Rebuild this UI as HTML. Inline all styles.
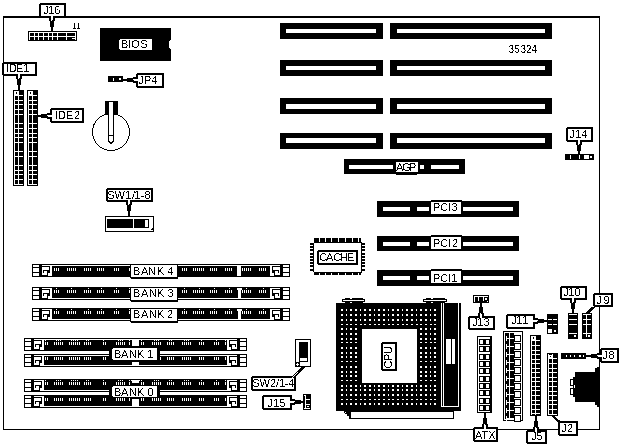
<!DOCTYPE html>
<html><head><meta charset="utf-8"><style>
html,body{margin:0;padding:0;background:#fff;overflow:hidden}
svg{display:block}
text{font-family:"Liberation Sans",sans-serif;fill:#000}
</style></head><body>
<svg width="621" height="447" viewBox="0 0 621 447" shape-rendering="crispEdges">
<defs><filter id="bw" x="0" y="0" width="100%" height="100%" color-interpolation-filters="sRGB"><feColorMatrix type="matrix" values="0.33 0.33 0.33 0 0 0.33 0.33 0.33 0 0 0.33 0.33 0.33 0 0 0 0 0 1 0"/><feComponentTransfer><feFuncR type="discrete" tableValues="0 1"/><feFuncG type="discrete" tableValues="0 1"/><feFuncB type="discrete" tableValues="0 1"/></feComponentTransfer></filter></defs>
<g filter="url(#bw)">
<rect width="621" height="447" fill="#fff"/>
<rect x="3" y="16" width="597" height="2" fill="#000"/>
<rect x="3" y="16" width="1" height="414" fill="#000"/>
<rect x="599" y="16" width="1" height="414" fill="#000"/>
<rect x="3" y="429" width="597" height="1" fill="#000"/>
<rect x="28" y="31" width="49" height="10" fill="#000"/>
<rect x="29" y="32" width="47" height="1" fill="#fff"/>
<rect x="29" y="36" width="47" height="1" fill="#fff"/>
<rect x="29" y="32" width="1" height="8" fill="#fff"/>
<rect x="34" y="32" width="1" height="8" fill="#fff"/>
<rect x="38" y="32" width="1" height="8" fill="#fff"/>
<rect x="43" y="32" width="1" height="8" fill="#fff"/>
<rect x="48" y="32" width="1" height="8" fill="#fff"/>
<rect x="52" y="32" width="1" height="8" fill="#fff"/>
<rect x="57" y="32" width="1" height="8" fill="#fff"/>
<rect x="66" y="32" width="1" height="8" fill="#fff"/>
<rect x="75" y="32" width="1" height="8" fill="#fff"/>
<rect x="72" y="38" width="3" height="1" fill="#fff"/>
<polygon points="40,3 65,3 66,4 66,17 65,18 40,18 39,17 39,4" fill="#000"/>
<rect x="41" y="5" width="23" height="11" fill="#fff"/>
<rect x="49" y="18" width="6" height="3" fill="#000"/>
<rect x="50" y="21" width="4" height="6" fill="#000"/>
<rect x="51" y="27" width="2" height="4" fill="#000"/>
<rect x="51" y="16" width="2" height="4" fill="#fff"/>
<rect x="51" y="20" width="1" height="1" fill="#fff"/>
<text x="43.25" y="14" font-size="11">J</text>
<text x="48.25" y="14" font-size="11">1</text>
<text x="54.25" y="14" font-size="11">6</text>
<text x="72.00" y="29" font-size="8.5" text-anchor="start">11</text>
<rect x="100" y="28" width="71" height="33" fill="#000"/>
<rect x="169" y="41" width="2" height="7" fill="#fff"/>
<rect x="170" y="40" width="1" height="9" fill="#fff"/>
<polygon points="120,39 151,39 152,40 152,49 151,50 120,50 119,49 119,40" fill="#fff"/>
<text x="121.00" y="48" font-size="11">B</text>
<text x="128.00" y="48" font-size="11">I</text>
<text x="131.25" y="48" font-size="11">O</text>
<text x="140.25" y="48" font-size="11">S</text>
<rect x="108" y="76" width="15" height="6" fill="#000"/>
<rect x="113" y="78" width="1" height="3" fill="#fff"/>
<rect x="119" y="78" width="2" height="2" fill="#fff"/>
<polygon points="137,73 163,73 164,74 164,87 163,88 137,88 136,87 136,74" fill="#000"/>
<rect x="138" y="75" width="24" height="11" fill="#fff"/>
<rect x="133" y="77" width="3" height="6" fill="#000"/>
<rect x="127" y="78" width="6" height="4" fill="#000"/>
<rect x="123" y="79" width="4" height="2" fill="#000"/>
<rect x="134" y="79" width="4" height="2" fill="#fff"/>
<rect x="133" y="79" width="1" height="1" fill="#fff"/>
<text x="138.25" y="84" font-size="11">J</text>
<text x="144.00" y="84" font-size="11">P</text>
<text x="151.25" y="84" font-size="11">4</text>
<rect x="13" y="90" width="11" height="96" fill="#000"/>
<rect x="14" y="91" width="1" height="94" fill="#fff"/>
<rect x="18" y="91" width="1" height="94" fill="#fff"/>
<rect x="14" y="95" width="9" height="1" fill="#fff"/>
<rect x="14" y="100" width="9" height="1" fill="#fff"/>
<rect x="14" y="104" width="9" height="1" fill="#fff"/>
<rect x="14" y="109" width="9" height="1" fill="#fff"/>
<rect x="14" y="114" width="9" height="1" fill="#fff"/>
<rect x="14" y="123" width="9" height="1" fill="#fff"/>
<rect x="14" y="128" width="9" height="1" fill="#fff"/>
<rect x="14" y="133" width="9" height="1" fill="#fff"/>
<rect x="14" y="137" width="9" height="1" fill="#fff"/>
<rect x="14" y="142" width="9" height="1" fill="#fff"/>
<rect x="14" y="151" width="9" height="1" fill="#fff"/>
<rect x="14" y="156" width="9" height="1" fill="#fff"/>
<rect x="14" y="165" width="9" height="1" fill="#fff"/>
<rect x="14" y="170" width="9" height="1" fill="#fff"/>
<rect x="14" y="174" width="9" height="1" fill="#fff"/>
<rect x="14" y="179" width="9" height="1" fill="#fff"/>
<rect x="14" y="184" width="9" height="1" fill="#fff"/>
<rect x="15" y="91" width="3" height="4" fill="#fff"/>
<rect x="16" y="92" width="1" height="2" fill="#000"/>
<rect x="27" y="90" width="11" height="96" fill="#000"/>
<rect x="28" y="91" width="1" height="94" fill="#fff"/>
<rect x="32" y="91" width="1" height="94" fill="#fff"/>
<rect x="28" y="95" width="9" height="1" fill="#fff"/>
<rect x="28" y="100" width="9" height="1" fill="#fff"/>
<rect x="28" y="104" width="9" height="1" fill="#fff"/>
<rect x="28" y="109" width="9" height="1" fill="#fff"/>
<rect x="28" y="114" width="9" height="1" fill="#fff"/>
<rect x="28" y="123" width="9" height="1" fill="#fff"/>
<rect x="28" y="128" width="9" height="1" fill="#fff"/>
<rect x="28" y="133" width="9" height="1" fill="#fff"/>
<rect x="28" y="137" width="9" height="1" fill="#fff"/>
<rect x="28" y="142" width="9" height="1" fill="#fff"/>
<rect x="28" y="151" width="9" height="1" fill="#fff"/>
<rect x="28" y="156" width="9" height="1" fill="#fff"/>
<rect x="28" y="165" width="9" height="1" fill="#fff"/>
<rect x="28" y="170" width="9" height="1" fill="#fff"/>
<rect x="28" y="174" width="9" height="1" fill="#fff"/>
<rect x="28" y="179" width="9" height="1" fill="#fff"/>
<rect x="28" y="184" width="9" height="1" fill="#fff"/>
<rect x="29" y="91" width="3" height="4" fill="#fff"/>
<rect x="30" y="92" width="1" height="2" fill="#000"/>
<polygon points="3,62 36,62 37,63 37,75 36,76 3,76 2,75 2,63" fill="#000"/>
<rect x="4" y="64" width="31" height="10" fill="#fff"/>
<rect x="16" y="76" width="6" height="3" fill="#000"/>
<rect x="17" y="79" width="4" height="6" fill="#000"/>
<rect x="18" y="85" width="2" height="5" fill="#000"/>
<rect x="18" y="74" width="2" height="4" fill="#fff"/>
<rect x="18" y="78" width="1" height="1" fill="#fff"/>
<text x="6.00" y="72" font-size="11">I</text>
<text x="9.00" y="72" font-size="11">D</text>
<text x="16.00" y="72" font-size="11">E</text>
<text x="23.25" y="72" font-size="11">1</text>
<polygon points="51,108 83,108 84,109 84,122 83,123 51,123 50,122 50,109" fill="#000"/>
<rect x="52" y="110" width="30" height="11" fill="#fff"/>
<rect x="47" y="113" width="3" height="6" fill="#000"/>
<rect x="41" y="114" width="6" height="4" fill="#000"/>
<rect x="38" y="115" width="3" height="2" fill="#000"/>
<rect x="48" y="115" width="4" height="2" fill="#fff"/>
<rect x="47" y="115" width="1" height="1" fill="#fff"/>
<text x="55.00" y="119" font-size="11">I</text>
<text x="58.00" y="119" font-size="11">D</text>
<text x="66.00" y="119" font-size="11">E</text>
<text x="74.00" y="119" font-size="11">2</text>
<circle cx="111" cy="132" r="18.5" fill="none" stroke="#000" stroke-width="1"/>
<rect x="105" y="101" width="13" height="14" fill="#000"/>
<polygon points="108,101 114,101 114,141 111,145 108,141" fill="#000"/>
<polygon points="109,102 113,102 113,140.5 111,143 109,140.5" fill="#fff"/>
<rect x="108" y="135" width="6" height="1" fill="#000"/>
<polygon points="107,188 152,188 153,189 153,201 152,202 107,202 106,201 106,189" fill="#000"/>
<rect x="108" y="190" width="43" height="10" fill="#fff"/>
<rect x="126" y="202" width="6" height="3" fill="#000"/>
<rect x="127" y="205" width="4" height="6" fill="#000"/>
<rect x="128" y="211" width="2" height="5" fill="#000"/>
<rect x="128" y="200" width="2" height="4" fill="#fff"/>
<rect x="128" y="204" width="1" height="1" fill="#fff"/>
<text x="107.25" y="199" font-size="11">S</text>
<text x="114.50" y="199" font-size="11">W</text>
<text x="125.25" y="199" font-size="11">1</text>
<text x="132.00" y="199" font-size="11">/</text>
<text x="134.25" y="199" font-size="11">1</text>
<text x="140.75" y="199" font-size="11">-</text>
<text x="144.50" y="199" font-size="11">8</text>
<rect x="105" y="216" width="49" height="16" fill="#000"/>
<rect x="106" y="217" width="47" height="14" fill="#fff"/>
<rect x="107" y="219" width="26" height="9" fill="#000"/>
<rect x="134" y="219" width="15" height="9" fill="#000"/>
<rect x="145" y="220" width="3" height="7" fill="#fff"/>
<polygon points="150,230 153,227 153,230" fill="#000"/>
<rect x="280" y="23" width="103" height="16" fill="#000"/>
<rect x="286" y="29" width="90" height="4" fill="#fff"/>
<rect x="390" y="23" width="162" height="16" fill="#000"/>
<rect x="397" y="29" width="148" height="4" fill="#fff"/>
<rect x="280" y="60" width="103" height="16" fill="#000"/>
<rect x="286" y="66" width="90" height="4" fill="#fff"/>
<rect x="390" y="60" width="162" height="16" fill="#000"/>
<rect x="397" y="66" width="148" height="4" fill="#fff"/>
<rect x="280" y="98" width="103" height="16" fill="#000"/>
<rect x="286" y="104" width="90" height="5" fill="#fff"/>
<rect x="390" y="98" width="162" height="16" fill="#000"/>
<rect x="397" y="104" width="148" height="5" fill="#fff"/>
<rect x="280" y="133" width="103" height="16" fill="#000"/>
<rect x="286" y="138" width="90" height="5" fill="#fff"/>
<rect x="390" y="133" width="162" height="16" fill="#000"/>
<rect x="397" y="138" width="148" height="5" fill="#fff"/>
<text x="508.50" y="53" font-size="10">3</text>
<text x="514.25" y="53" font-size="10">5</text>
<text x="520.50" y="53" font-size="10">3</text>
<text x="526.00" y="53" font-size="10">2</text>
<text x="531.25" y="53" font-size="10">4</text>
<rect x="344" y="159" width="121" height="15" fill="#000"/>
<rect x="349" y="165" width="44" height="4" fill="#fff"/>
<rect x="420" y="165" width="4" height="4" fill="#fff"/>
<rect x="431" y="165" width="28" height="4" fill="#fff"/>
<polygon points="395,161 418,161 419,162 419,172 418,173 395,173 394,172 394,162" fill="#000"/>
<rect x="396" y="162" width="22" height="10" fill="#fff"/>
<rect x="396" y="174" width="21" height="1" fill="#000"/>
<text x="396.00" y="171" font-size="11">A</text>
<text x="402.25" y="171" font-size="11">G</text>
<text x="409.00" y="171" font-size="11">P</text>
<rect x="565" y="154" width="29" height="6" fill="#000"/>
<rect x="570" y="155" width="1" height="4" fill="#fff"/>
<rect x="579" y="155" width="1" height="4" fill="#fff"/>
<rect x="584" y="155" width="5" height="4" fill="#fff"/>
<rect x="590" y="156" width="2" height="2" fill="#fff"/>
<polygon points="567,127 592,127 593,128 593,141 592,142 567,142 566,141 566,128" fill="#000"/>
<rect x="568" y="129" width="23" height="11" fill="#fff"/>
<rect x="576" y="142" width="6" height="3" fill="#000"/>
<rect x="577" y="145" width="4" height="6" fill="#000"/>
<rect x="578" y="151" width="2" height="3" fill="#000"/>
<rect x="578" y="140" width="2" height="4" fill="#fff"/>
<rect x="578" y="144" width="1" height="1" fill="#fff"/>
<text x="569.25" y="138" font-size="11">J</text>
<text x="575.25" y="138" font-size="11">1</text>
<text x="581.25" y="138" font-size="11">4</text>
<rect x="377" y="201" width="142" height="16" fill="#000"/>
<rect x="383" y="207" width="27" height="4" fill="#fff"/>
<rect x="417" y="207" width="12" height="4" fill="#fff"/>
<rect x="463" y="207" width="50" height="4" fill="#fff"/>
<rect x="377" y="236" width="142" height="15" fill="#000"/>
<rect x="383" y="242" width="27" height="4" fill="#fff"/>
<rect x="417" y="242" width="12" height="4" fill="#fff"/>
<rect x="463" y="242" width="50" height="4" fill="#fff"/>
<rect x="377" y="270" width="142" height="16" fill="#000"/>
<rect x="383" y="276" width="27" height="4" fill="#fff"/>
<rect x="417" y="276" width="12" height="4" fill="#fff"/>
<rect x="463" y="276" width="50" height="4" fill="#fff"/>
<polygon points="431,200 461,200 462,201 462,214 461,215 431,215 430,214 430,201" fill="#000"/>
<rect x="431" y="202" width="30" height="12" fill="#fff"/>
<text x="433.00" y="211" font-size="11">P</text>
<text x="440.25" y="211" font-size="11">C</text>
<text x="448.00" y="211" font-size="11">I</text>
<text x="451.50" y="211" font-size="11">3</text>
<polygon points="431,235 461,235 462,236 462,249 461,250 431,250 430,249 430,236" fill="#000"/>
<rect x="431" y="237" width="30" height="12" fill="#fff"/>
<text x="433.00" y="247" font-size="11">P</text>
<text x="440.25" y="247" font-size="11">C</text>
<text x="448.00" y="247" font-size="11">I</text>
<text x="452.00" y="247" font-size="11">2</text>
<polygon points="431,269 461,269 462,270 462,283 461,284 431,284 430,283 430,270" fill="#000"/>
<rect x="431" y="271" width="30" height="12" fill="#fff"/>
<text x="433.00" y="282" font-size="11">P</text>
<text x="440.25" y="282" font-size="11">C</text>
<text x="448.00" y="282" font-size="11">I</text>
<text x="451.25" y="282" font-size="11">1</text>
<rect x="314" y="238" width="47" height="4" fill="#000"/>
<rect x="314" y="273" width="47" height="2" fill="#000"/>
<rect x="319" y="238" width="1" height="4" fill="#fff"/>
<rect x="319" y="273" width="1" height="2" fill="#fff"/>
<rect x="325" y="238" width="1" height="4" fill="#fff"/>
<rect x="325" y="273" width="1" height="2" fill="#fff"/>
<rect x="331" y="238" width="1" height="4" fill="#fff"/>
<rect x="331" y="273" width="1" height="2" fill="#fff"/>
<rect x="338" y="238" width="1" height="4" fill="#fff"/>
<rect x="338" y="273" width="1" height="2" fill="#fff"/>
<rect x="345" y="238" width="1" height="4" fill="#fff"/>
<rect x="345" y="273" width="1" height="2" fill="#fff"/>
<rect x="352" y="238" width="1" height="4" fill="#fff"/>
<rect x="352" y="273" width="1" height="2" fill="#fff"/>
<rect x="358" y="238" width="1" height="4" fill="#fff"/>
<rect x="358" y="273" width="1" height="2" fill="#fff"/>
<rect x="310" y="243" width="3" height="2" fill="#000"/>
<rect x="362" y="243" width="3" height="2" fill="#000"/>
<rect x="310" y="246" width="3" height="2" fill="#000"/>
<rect x="362" y="246" width="3" height="2" fill="#000"/>
<rect x="310" y="249" width="3" height="2" fill="#000"/>
<rect x="362" y="249" width="3" height="2" fill="#000"/>
<rect x="310" y="253" width="3" height="2" fill="#000"/>
<rect x="362" y="253" width="3" height="2" fill="#000"/>
<rect x="310" y="256" width="3" height="2" fill="#000"/>
<rect x="362" y="256" width="3" height="2" fill="#000"/>
<rect x="310" y="259" width="3" height="2" fill="#000"/>
<rect x="362" y="259" width="3" height="2" fill="#000"/>
<rect x="310" y="262" width="3" height="2" fill="#000"/>
<rect x="362" y="262" width="3" height="2" fill="#000"/>
<rect x="310" y="265" width="3" height="2" fill="#000"/>
<rect x="362" y="265" width="3" height="2" fill="#000"/>
<rect x="310" y="269" width="3" height="2" fill="#000"/>
<rect x="362" y="269" width="3" height="2" fill="#000"/>
<polygon points="314,242 361,242 362,243 362,272 361,273 314,273 313,272 313,243" fill="#000"/>
<rect x="314" y="243" width="47" height="29" fill="#fff"/>
<polygon points="318,250 357,250 358,251 358,264 357,265 318,265 317,264 317,251" fill="#000"/>
<rect x="319" y="252" width="37" height="11" fill="#fff"/>
<text x="319.25" y="261" font-size="11">C</text>
<text x="326.00" y="261" font-size="11">A</text>
<text x="333.25" y="261" font-size="11">C</text>
<text x="340.00" y="261" font-size="11">H</text>
<text x="347.00" y="261" font-size="11">E</text>
<rect x="32" y="264" width="258" height="13" fill="#000"/>
<rect x="33" y="265" width="6" height="2" fill="#fff"/>
<rect x="33" y="268" width="6" height="4" fill="#fff"/>
<rect x="33" y="273" width="6" height="3" fill="#fff"/>
<rect x="42" y="265" width="10" height="1" fill="#fff"/>
<rect x="50" y="265" width="2" height="11" fill="#fff"/>
<rect x="42" y="267" width="7" height="3" fill="#fff"/>
<rect x="42" y="270" width="1" height="5" fill="#fff"/>
<rect x="44" y="271" width="3" height="2" fill="#fff"/>
<rect x="42" y="273" width="5" height="2" fill="#fff"/>
<rect x="48" y="273" width="2" height="3" fill="#fff"/>
<rect x="283" y="265" width="6" height="2" fill="#fff"/>
<rect x="283" y="268" width="6" height="4" fill="#fff"/>
<rect x="283" y="273" width="6" height="3" fill="#fff"/>
<rect x="270" y="265" width="10" height="1" fill="#fff"/>
<rect x="270" y="265" width="2" height="11" fill="#fff"/>
<rect x="273" y="267" width="7" height="3" fill="#fff"/>
<rect x="279" y="270" width="1" height="5" fill="#fff"/>
<rect x="275" y="271" width="3" height="2" fill="#fff"/>
<rect x="275" y="273" width="5" height="2" fill="#fff"/>
<rect x="272" y="273" width="2" height="3" fill="#fff"/>
<rect x="52" y="265" width="218" height="1" fill="#fff"/>
<rect x="54" y="268" width="1" height="3" fill="#fff"/>
<rect x="56" y="268" width="1" height="3" fill="#fff"/>
<rect x="58" y="268" width="1" height="3" fill="#fff"/>
<rect x="67" y="268" width="1" height="3" fill="#fff"/>
<rect x="69" y="268" width="1" height="3" fill="#fff"/>
<rect x="71" y="268" width="1" height="3" fill="#fff"/>
<rect x="73" y="268" width="1" height="3" fill="#fff"/>
<rect x="75" y="268" width="1" height="3" fill="#fff"/>
<rect x="84" y="268" width="1" height="3" fill="#fff"/>
<rect x="86" y="268" width="1" height="3" fill="#fff"/>
<rect x="88" y="268" width="1" height="3" fill="#fff"/>
<rect x="90" y="268" width="1" height="3" fill="#fff"/>
<rect x="97" y="268" width="1" height="3" fill="#fff"/>
<rect x="99" y="268" width="1" height="3" fill="#fff"/>
<rect x="101" y="268" width="1" height="3" fill="#fff"/>
<rect x="103" y="268" width="1" height="3" fill="#fff"/>
<rect x="114" y="268" width="1" height="3" fill="#fff"/>
<rect x="116" y="268" width="1" height="3" fill="#fff"/>
<rect x="118" y="268" width="1" height="3" fill="#fff"/>
<rect x="129" y="268" width="1" height="3" fill="#fff"/>
<rect x="182" y="268" width="1" height="3" fill="#fff"/>
<rect x="184" y="268" width="1" height="3" fill="#fff"/>
<rect x="186" y="268" width="1" height="3" fill="#fff"/>
<rect x="193" y="268" width="1" height="3" fill="#fff"/>
<rect x="195" y="268" width="1" height="3" fill="#fff"/>
<rect x="197" y="268" width="1" height="3" fill="#fff"/>
<rect x="199" y="268" width="1" height="3" fill="#fff"/>
<rect x="201" y="268" width="1" height="3" fill="#fff"/>
<rect x="203" y="268" width="1" height="3" fill="#fff"/>
<rect x="210" y="268" width="1" height="3" fill="#fff"/>
<rect x="212" y="268" width="1" height="3" fill="#fff"/>
<rect x="214" y="268" width="1" height="3" fill="#fff"/>
<rect x="216" y="268" width="1" height="3" fill="#fff"/>
<rect x="225" y="268" width="1" height="3" fill="#fff"/>
<rect x="227" y="268" width="1" height="3" fill="#fff"/>
<rect x="229" y="268" width="1" height="3" fill="#fff"/>
<rect x="231" y="268" width="1" height="3" fill="#fff"/>
<rect x="242" y="268" width="1" height="3" fill="#fff"/>
<rect x="244" y="268" width="1" height="3" fill="#fff"/>
<rect x="246" y="268" width="1" height="3" fill="#fff"/>
<rect x="248" y="268" width="1" height="3" fill="#fff"/>
<rect x="250" y="268" width="1" height="3" fill="#fff"/>
<rect x="259" y="268" width="1" height="3" fill="#fff"/>
<rect x="261" y="268" width="1" height="3" fill="#fff"/>
<rect x="263" y="268" width="1" height="3" fill="#fff"/>
<rect x="265" y="268" width="1" height="3" fill="#fff"/>
<rect x="237" y="265" width="4" height="11" fill="#fff"/>
<rect x="32" y="287" width="258" height="13" fill="#000"/>
<rect x="33" y="288" width="6" height="2" fill="#fff"/>
<rect x="33" y="291" width="6" height="4" fill="#fff"/>
<rect x="33" y="296" width="6" height="3" fill="#fff"/>
<rect x="42" y="288" width="10" height="1" fill="#fff"/>
<rect x="50" y="288" width="2" height="11" fill="#fff"/>
<rect x="42" y="290" width="7" height="3" fill="#fff"/>
<rect x="42" y="293" width="1" height="5" fill="#fff"/>
<rect x="44" y="294" width="3" height="2" fill="#fff"/>
<rect x="42" y="296" width="5" height="2" fill="#fff"/>
<rect x="48" y="296" width="2" height="3" fill="#fff"/>
<rect x="283" y="288" width="6" height="2" fill="#fff"/>
<rect x="283" y="291" width="6" height="4" fill="#fff"/>
<rect x="283" y="296" width="6" height="3" fill="#fff"/>
<rect x="270" y="288" width="10" height="1" fill="#fff"/>
<rect x="270" y="288" width="2" height="11" fill="#fff"/>
<rect x="273" y="290" width="7" height="3" fill="#fff"/>
<rect x="279" y="293" width="1" height="5" fill="#fff"/>
<rect x="275" y="294" width="3" height="2" fill="#fff"/>
<rect x="275" y="296" width="5" height="2" fill="#fff"/>
<rect x="272" y="296" width="2" height="3" fill="#fff"/>
<rect x="52" y="298" width="218" height="1" fill="#fff"/>
<rect x="54" y="290" width="1" height="3" fill="#fff"/>
<rect x="56" y="290" width="1" height="3" fill="#fff"/>
<rect x="58" y="290" width="1" height="3" fill="#fff"/>
<rect x="67" y="290" width="1" height="3" fill="#fff"/>
<rect x="69" y="290" width="1" height="3" fill="#fff"/>
<rect x="71" y="290" width="1" height="3" fill="#fff"/>
<rect x="73" y="290" width="1" height="3" fill="#fff"/>
<rect x="75" y="290" width="1" height="3" fill="#fff"/>
<rect x="84" y="290" width="1" height="3" fill="#fff"/>
<rect x="86" y="290" width="1" height="3" fill="#fff"/>
<rect x="88" y="290" width="1" height="3" fill="#fff"/>
<rect x="90" y="290" width="1" height="3" fill="#fff"/>
<rect x="97" y="290" width="1" height="3" fill="#fff"/>
<rect x="99" y="290" width="1" height="3" fill="#fff"/>
<rect x="101" y="290" width="1" height="3" fill="#fff"/>
<rect x="103" y="290" width="1" height="3" fill="#fff"/>
<rect x="114" y="290" width="1" height="3" fill="#fff"/>
<rect x="116" y="290" width="1" height="3" fill="#fff"/>
<rect x="118" y="290" width="1" height="3" fill="#fff"/>
<rect x="129" y="290" width="1" height="3" fill="#fff"/>
<rect x="182" y="290" width="1" height="3" fill="#fff"/>
<rect x="184" y="290" width="1" height="3" fill="#fff"/>
<rect x="186" y="290" width="1" height="3" fill="#fff"/>
<rect x="193" y="290" width="1" height="3" fill="#fff"/>
<rect x="195" y="290" width="1" height="3" fill="#fff"/>
<rect x="197" y="290" width="1" height="3" fill="#fff"/>
<rect x="199" y="290" width="1" height="3" fill="#fff"/>
<rect x="201" y="290" width="1" height="3" fill="#fff"/>
<rect x="203" y="290" width="1" height="3" fill="#fff"/>
<rect x="210" y="290" width="1" height="3" fill="#fff"/>
<rect x="212" y="290" width="1" height="3" fill="#fff"/>
<rect x="214" y="290" width="1" height="3" fill="#fff"/>
<rect x="216" y="290" width="1" height="3" fill="#fff"/>
<rect x="225" y="290" width="1" height="3" fill="#fff"/>
<rect x="227" y="290" width="1" height="3" fill="#fff"/>
<rect x="229" y="290" width="1" height="3" fill="#fff"/>
<rect x="231" y="290" width="1" height="3" fill="#fff"/>
<rect x="242" y="290" width="1" height="3" fill="#fff"/>
<rect x="244" y="290" width="1" height="3" fill="#fff"/>
<rect x="246" y="290" width="1" height="3" fill="#fff"/>
<rect x="248" y="290" width="1" height="3" fill="#fff"/>
<rect x="250" y="290" width="1" height="3" fill="#fff"/>
<rect x="259" y="290" width="1" height="3" fill="#fff"/>
<rect x="261" y="290" width="1" height="3" fill="#fff"/>
<rect x="263" y="290" width="1" height="3" fill="#fff"/>
<rect x="265" y="290" width="1" height="3" fill="#fff"/>
<rect x="56" y="288" width="1" height="1" fill="#fff"/>
<rect x="71" y="288" width="1" height="1" fill="#fff"/>
<rect x="88" y="288" width="1" height="1" fill="#fff"/>
<rect x="101" y="288" width="1" height="1" fill="#fff"/>
<rect x="116" y="288" width="1" height="1" fill="#fff"/>
<rect x="129" y="288" width="1" height="1" fill="#fff"/>
<rect x="184" y="288" width="1" height="1" fill="#fff"/>
<rect x="199" y="288" width="1" height="1" fill="#fff"/>
<rect x="214" y="288" width="1" height="1" fill="#fff"/>
<rect x="229" y="288" width="1" height="1" fill="#fff"/>
<rect x="246" y="288" width="1" height="1" fill="#fff"/>
<rect x="263" y="288" width="1" height="1" fill="#fff"/>
<rect x="237" y="288" width="5" height="2" fill="#fff"/>
<rect x="238" y="290" width="3" height="8" fill="#fff"/>
<rect x="32" y="308" width="258" height="13" fill="#000"/>
<rect x="33" y="309" width="6" height="2" fill="#fff"/>
<rect x="33" y="312" width="6" height="4" fill="#fff"/>
<rect x="33" y="317" width="6" height="3" fill="#fff"/>
<rect x="42" y="309" width="10" height="1" fill="#fff"/>
<rect x="50" y="309" width="2" height="11" fill="#fff"/>
<rect x="42" y="311" width="7" height="3" fill="#fff"/>
<rect x="42" y="314" width="1" height="5" fill="#fff"/>
<rect x="44" y="315" width="3" height="2" fill="#fff"/>
<rect x="42" y="317" width="5" height="2" fill="#fff"/>
<rect x="48" y="317" width="2" height="3" fill="#fff"/>
<rect x="283" y="309" width="6" height="2" fill="#fff"/>
<rect x="283" y="312" width="6" height="4" fill="#fff"/>
<rect x="283" y="317" width="6" height="3" fill="#fff"/>
<rect x="270" y="309" width="10" height="1" fill="#fff"/>
<rect x="270" y="309" width="2" height="11" fill="#fff"/>
<rect x="273" y="311" width="7" height="3" fill="#fff"/>
<rect x="279" y="314" width="1" height="5" fill="#fff"/>
<rect x="275" y="315" width="3" height="2" fill="#fff"/>
<rect x="275" y="317" width="5" height="2" fill="#fff"/>
<rect x="272" y="317" width="2" height="3" fill="#fff"/>
<rect x="52" y="319" width="218" height="1" fill="#fff"/>
<rect x="54" y="311" width="1" height="3" fill="#fff"/>
<rect x="56" y="311" width="1" height="3" fill="#fff"/>
<rect x="58" y="311" width="1" height="3" fill="#fff"/>
<rect x="67" y="311" width="1" height="3" fill="#fff"/>
<rect x="69" y="311" width="1" height="3" fill="#fff"/>
<rect x="71" y="311" width="1" height="3" fill="#fff"/>
<rect x="73" y="311" width="1" height="3" fill="#fff"/>
<rect x="75" y="311" width="1" height="3" fill="#fff"/>
<rect x="84" y="311" width="1" height="3" fill="#fff"/>
<rect x="86" y="311" width="1" height="3" fill="#fff"/>
<rect x="88" y="311" width="1" height="3" fill="#fff"/>
<rect x="90" y="311" width="1" height="3" fill="#fff"/>
<rect x="97" y="311" width="1" height="3" fill="#fff"/>
<rect x="99" y="311" width="1" height="3" fill="#fff"/>
<rect x="101" y="311" width="1" height="3" fill="#fff"/>
<rect x="103" y="311" width="1" height="3" fill="#fff"/>
<rect x="114" y="311" width="1" height="3" fill="#fff"/>
<rect x="116" y="311" width="1" height="3" fill="#fff"/>
<rect x="118" y="311" width="1" height="3" fill="#fff"/>
<rect x="129" y="311" width="1" height="3" fill="#fff"/>
<rect x="182" y="311" width="1" height="3" fill="#fff"/>
<rect x="184" y="311" width="1" height="3" fill="#fff"/>
<rect x="186" y="311" width="1" height="3" fill="#fff"/>
<rect x="193" y="311" width="1" height="3" fill="#fff"/>
<rect x="195" y="311" width="1" height="3" fill="#fff"/>
<rect x="197" y="311" width="1" height="3" fill="#fff"/>
<rect x="199" y="311" width="1" height="3" fill="#fff"/>
<rect x="201" y="311" width="1" height="3" fill="#fff"/>
<rect x="203" y="311" width="1" height="3" fill="#fff"/>
<rect x="210" y="311" width="1" height="3" fill="#fff"/>
<rect x="212" y="311" width="1" height="3" fill="#fff"/>
<rect x="214" y="311" width="1" height="3" fill="#fff"/>
<rect x="216" y="311" width="1" height="3" fill="#fff"/>
<rect x="225" y="311" width="1" height="3" fill="#fff"/>
<rect x="227" y="311" width="1" height="3" fill="#fff"/>
<rect x="229" y="311" width="1" height="3" fill="#fff"/>
<rect x="231" y="311" width="1" height="3" fill="#fff"/>
<rect x="242" y="311" width="1" height="3" fill="#fff"/>
<rect x="244" y="311" width="1" height="3" fill="#fff"/>
<rect x="246" y="311" width="1" height="3" fill="#fff"/>
<rect x="248" y="311" width="1" height="3" fill="#fff"/>
<rect x="250" y="311" width="1" height="3" fill="#fff"/>
<rect x="259" y="311" width="1" height="3" fill="#fff"/>
<rect x="261" y="311" width="1" height="3" fill="#fff"/>
<rect x="263" y="311" width="1" height="3" fill="#fff"/>
<rect x="265" y="311" width="1" height="3" fill="#fff"/>
<rect x="56" y="309" width="1" height="1" fill="#fff"/>
<rect x="71" y="309" width="1" height="1" fill="#fff"/>
<rect x="88" y="309" width="1" height="1" fill="#fff"/>
<rect x="101" y="309" width="1" height="1" fill="#fff"/>
<rect x="116" y="309" width="1" height="1" fill="#fff"/>
<rect x="129" y="309" width="1" height="1" fill="#fff"/>
<rect x="184" y="309" width="1" height="1" fill="#fff"/>
<rect x="199" y="309" width="1" height="1" fill="#fff"/>
<rect x="214" y="309" width="1" height="1" fill="#fff"/>
<rect x="229" y="309" width="1" height="1" fill="#fff"/>
<rect x="246" y="309" width="1" height="1" fill="#fff"/>
<rect x="263" y="309" width="1" height="1" fill="#fff"/>
<rect x="237" y="309" width="5" height="2" fill="#fff"/>
<rect x="238" y="311" width="3" height="8" fill="#fff"/>
<polygon points="131,264 177,264 178,265 178,278 177,279 131,279 130,278 130,265" fill="#000"/>
<rect x="131" y="265" width="46" height="12" fill="#fff"/>
<text x="133.00" y="275" font-size="11">B</text>
<text x="141.00" y="275" font-size="11">A</text>
<text x="148.00" y="275" font-size="11">N</text>
<text x="157.00" y="275" font-size="11">K</text>
<text x="167.25" y="275" font-size="11">4</text>
<polygon points="131,287 177,287 178,288 178,301 177,302 131,302 130,301 130,288" fill="#000"/>
<rect x="131" y="288" width="46" height="12" fill="#fff"/>
<text x="133.00" y="297" font-size="11">B</text>
<text x="141.00" y="297" font-size="11">A</text>
<text x="149.00" y="297" font-size="11">N</text>
<text x="157.00" y="297" font-size="11">K</text>
<text x="167.50" y="297" font-size="11">3</text>
<polygon points="131,308 177,308 178,309 178,322 177,323 131,323 130,322 130,309" fill="#000"/>
<rect x="131" y="309" width="46" height="12" fill="#fff"/>
<text x="133.00" y="318" font-size="11">B</text>
<text x="141.00" y="318" font-size="11">A</text>
<text x="149.00" y="318" font-size="11">N</text>
<text x="157.00" y="318" font-size="11">K</text>
<text x="167.00" y="318" font-size="11">2</text>
<rect x="24" y="338" width="223" height="13" fill="#000"/>
<rect x="25" y="339" width="6" height="2" fill="#fff"/>
<rect x="25" y="342" width="6" height="4" fill="#fff"/>
<rect x="25" y="347" width="6" height="3" fill="#fff"/>
<rect x="34" y="339" width="10" height="1" fill="#fff"/>
<rect x="42" y="339" width="2" height="11" fill="#fff"/>
<rect x="34" y="341" width="7" height="3" fill="#fff"/>
<rect x="34" y="344" width="1" height="5" fill="#fff"/>
<rect x="36" y="345" width="3" height="2" fill="#fff"/>
<rect x="34" y="347" width="5" height="2" fill="#fff"/>
<rect x="40" y="347" width="2" height="3" fill="#fff"/>
<rect x="240" y="339" width="6" height="2" fill="#fff"/>
<rect x="240" y="342" width="6" height="4" fill="#fff"/>
<rect x="240" y="347" width="6" height="3" fill="#fff"/>
<rect x="227" y="339" width="10" height="1" fill="#fff"/>
<rect x="227" y="339" width="2" height="11" fill="#fff"/>
<rect x="230" y="341" width="7" height="3" fill="#fff"/>
<rect x="236" y="344" width="1" height="5" fill="#fff"/>
<rect x="232" y="345" width="3" height="2" fill="#fff"/>
<rect x="232" y="347" width="5" height="2" fill="#fff"/>
<rect x="229" y="347" width="2" height="3" fill="#fff"/>
<rect x="44" y="339" width="183" height="1" fill="#fff"/>
<rect x="45" y="342" width="1" height="3" fill="#fff"/>
<rect x="47" y="342" width="1" height="3" fill="#fff"/>
<rect x="54" y="342" width="1" height="3" fill="#fff"/>
<rect x="56" y="342" width="1" height="3" fill="#fff"/>
<rect x="58" y="342" width="1" height="3" fill="#fff"/>
<rect x="60" y="342" width="1" height="3" fill="#fff"/>
<rect x="62" y="342" width="1" height="3" fill="#fff"/>
<rect x="69" y="342" width="1" height="3" fill="#fff"/>
<rect x="71" y="342" width="1" height="3" fill="#fff"/>
<rect x="73" y="342" width="1" height="3" fill="#fff"/>
<rect x="75" y="342" width="1" height="3" fill="#fff"/>
<rect x="77" y="342" width="1" height="3" fill="#fff"/>
<rect x="79" y="342" width="1" height="3" fill="#fff"/>
<rect x="84" y="342" width="1" height="3" fill="#fff"/>
<rect x="86" y="342" width="1" height="3" fill="#fff"/>
<rect x="88" y="342" width="1" height="3" fill="#fff"/>
<rect x="90" y="342" width="1" height="3" fill="#fff"/>
<rect x="103" y="342" width="1" height="3" fill="#fff"/>
<rect x="105" y="342" width="1" height="3" fill="#fff"/>
<rect x="116" y="342" width="1" height="3" fill="#fff"/>
<rect x="118" y="342" width="1" height="3" fill="#fff"/>
<rect x="120" y="342" width="1" height="3" fill="#fff"/>
<rect x="122" y="342" width="1" height="3" fill="#fff"/>
<rect x="124" y="342" width="1" height="3" fill="#fff"/>
<rect x="129" y="342" width="1" height="3" fill="#fff"/>
<rect x="141" y="342" width="1" height="3" fill="#fff"/>
<rect x="143" y="342" width="1" height="3" fill="#fff"/>
<rect x="152" y="342" width="1" height="3" fill="#fff"/>
<rect x="154" y="342" width="1" height="3" fill="#fff"/>
<rect x="156" y="342" width="1" height="3" fill="#fff"/>
<rect x="158" y="342" width="1" height="3" fill="#fff"/>
<rect x="160" y="342" width="1" height="3" fill="#fff"/>
<rect x="167" y="342" width="1" height="3" fill="#fff"/>
<rect x="169" y="342" width="1" height="3" fill="#fff"/>
<rect x="171" y="342" width="1" height="3" fill="#fff"/>
<rect x="173" y="342" width="1" height="3" fill="#fff"/>
<rect x="182" y="342" width="1" height="3" fill="#fff"/>
<rect x="184" y="342" width="1" height="3" fill="#fff"/>
<rect x="186" y="342" width="1" height="3" fill="#fff"/>
<rect x="188" y="342" width="1" height="3" fill="#fff"/>
<rect x="190" y="342" width="1" height="3" fill="#fff"/>
<rect x="199" y="342" width="1" height="3" fill="#fff"/>
<rect x="201" y="342" width="1" height="3" fill="#fff"/>
<rect x="203" y="342" width="1" height="3" fill="#fff"/>
<rect x="214" y="342" width="1" height="3" fill="#fff"/>
<rect x="216" y="342" width="1" height="3" fill="#fff"/>
<rect x="218" y="342" width="1" height="3" fill="#fff"/>
<rect x="225" y="342" width="1" height="3" fill="#fff"/>
<rect x="45" y="340" width="1" height="1" fill="#fff"/>
<rect x="56" y="340" width="1" height="1" fill="#fff"/>
<rect x="58" y="340" width="1" height="1" fill="#fff"/>
<rect x="60" y="340" width="1" height="1" fill="#fff"/>
<rect x="71" y="340" width="1" height="1" fill="#fff"/>
<rect x="73" y="340" width="1" height="1" fill="#fff"/>
<rect x="75" y="340" width="1" height="1" fill="#fff"/>
<rect x="77" y="340" width="1" height="1" fill="#fff"/>
<rect x="86" y="340" width="1" height="1" fill="#fff"/>
<rect x="88" y="340" width="1" height="1" fill="#fff"/>
<rect x="103" y="340" width="1" height="1" fill="#fff"/>
<rect x="118" y="340" width="1" height="1" fill="#fff"/>
<rect x="120" y="340" width="1" height="1" fill="#fff"/>
<rect x="122" y="340" width="1" height="1" fill="#fff"/>
<rect x="129" y="340" width="1" height="1" fill="#fff"/>
<rect x="141" y="340" width="1" height="1" fill="#fff"/>
<rect x="154" y="340" width="1" height="1" fill="#fff"/>
<rect x="156" y="340" width="1" height="1" fill="#fff"/>
<rect x="158" y="340" width="1" height="1" fill="#fff"/>
<rect x="169" y="340" width="1" height="1" fill="#fff"/>
<rect x="171" y="340" width="1" height="1" fill="#fff"/>
<rect x="184" y="340" width="1" height="1" fill="#fff"/>
<rect x="186" y="340" width="1" height="1" fill="#fff"/>
<rect x="188" y="340" width="1" height="1" fill="#fff"/>
<rect x="201" y="340" width="1" height="1" fill="#fff"/>
<rect x="216" y="340" width="1" height="1" fill="#fff"/>
<rect x="225" y="340" width="1" height="1" fill="#fff"/>
<rect x="132" y="339" width="7" height="7" fill="#fff"/>
<rect x="24" y="354" width="223" height="13" fill="#000"/>
<rect x="25" y="355" width="6" height="2" fill="#fff"/>
<rect x="25" y="358" width="6" height="4" fill="#fff"/>
<rect x="25" y="363" width="6" height="3" fill="#fff"/>
<rect x="34" y="355" width="10" height="1" fill="#fff"/>
<rect x="42" y="355" width="2" height="11" fill="#fff"/>
<rect x="34" y="357" width="7" height="3" fill="#fff"/>
<rect x="34" y="360" width="1" height="5" fill="#fff"/>
<rect x="36" y="361" width="3" height="2" fill="#fff"/>
<rect x="34" y="363" width="5" height="2" fill="#fff"/>
<rect x="40" y="363" width="2" height="3" fill="#fff"/>
<rect x="240" y="355" width="6" height="2" fill="#fff"/>
<rect x="240" y="358" width="6" height="4" fill="#fff"/>
<rect x="240" y="363" width="6" height="3" fill="#fff"/>
<rect x="227" y="355" width="10" height="1" fill="#fff"/>
<rect x="227" y="355" width="2" height="11" fill="#fff"/>
<rect x="230" y="357" width="7" height="3" fill="#fff"/>
<rect x="236" y="360" width="1" height="5" fill="#fff"/>
<rect x="232" y="361" width="3" height="2" fill="#fff"/>
<rect x="232" y="363" width="5" height="2" fill="#fff"/>
<rect x="229" y="363" width="2" height="3" fill="#fff"/>
<rect x="44" y="355" width="183" height="1" fill="#fff"/>
<rect x="44" y="365" width="183" height="1" fill="#fff"/>
<rect x="45" y="357" width="1" height="3" fill="#fff"/>
<rect x="47" y="357" width="1" height="3" fill="#fff"/>
<rect x="54" y="357" width="1" height="3" fill="#fff"/>
<rect x="56" y="357" width="1" height="3" fill="#fff"/>
<rect x="58" y="357" width="1" height="3" fill="#fff"/>
<rect x="60" y="357" width="1" height="3" fill="#fff"/>
<rect x="62" y="357" width="1" height="3" fill="#fff"/>
<rect x="69" y="357" width="1" height="3" fill="#fff"/>
<rect x="71" y="357" width="1" height="3" fill="#fff"/>
<rect x="73" y="357" width="1" height="3" fill="#fff"/>
<rect x="75" y="357" width="1" height="3" fill="#fff"/>
<rect x="77" y="357" width="1" height="3" fill="#fff"/>
<rect x="79" y="357" width="1" height="3" fill="#fff"/>
<rect x="84" y="357" width="1" height="3" fill="#fff"/>
<rect x="86" y="357" width="1" height="3" fill="#fff"/>
<rect x="88" y="357" width="1" height="3" fill="#fff"/>
<rect x="90" y="357" width="1" height="3" fill="#fff"/>
<rect x="103" y="357" width="1" height="3" fill="#fff"/>
<rect x="105" y="357" width="1" height="3" fill="#fff"/>
<rect x="116" y="357" width="1" height="3" fill="#fff"/>
<rect x="118" y="357" width="1" height="3" fill="#fff"/>
<rect x="120" y="357" width="1" height="3" fill="#fff"/>
<rect x="122" y="357" width="1" height="3" fill="#fff"/>
<rect x="124" y="357" width="1" height="3" fill="#fff"/>
<rect x="129" y="357" width="1" height="3" fill="#fff"/>
<rect x="141" y="357" width="1" height="3" fill="#fff"/>
<rect x="143" y="357" width="1" height="3" fill="#fff"/>
<rect x="152" y="357" width="1" height="3" fill="#fff"/>
<rect x="154" y="357" width="1" height="3" fill="#fff"/>
<rect x="156" y="357" width="1" height="3" fill="#fff"/>
<rect x="158" y="357" width="1" height="3" fill="#fff"/>
<rect x="160" y="357" width="1" height="3" fill="#fff"/>
<rect x="167" y="357" width="1" height="3" fill="#fff"/>
<rect x="169" y="357" width="1" height="3" fill="#fff"/>
<rect x="171" y="357" width="1" height="3" fill="#fff"/>
<rect x="173" y="357" width="1" height="3" fill="#fff"/>
<rect x="182" y="357" width="1" height="3" fill="#fff"/>
<rect x="184" y="357" width="1" height="3" fill="#fff"/>
<rect x="186" y="357" width="1" height="3" fill="#fff"/>
<rect x="188" y="357" width="1" height="3" fill="#fff"/>
<rect x="190" y="357" width="1" height="3" fill="#fff"/>
<rect x="199" y="357" width="1" height="3" fill="#fff"/>
<rect x="201" y="357" width="1" height="3" fill="#fff"/>
<rect x="203" y="357" width="1" height="3" fill="#fff"/>
<rect x="214" y="357" width="1" height="3" fill="#fff"/>
<rect x="216" y="357" width="1" height="3" fill="#fff"/>
<rect x="218" y="357" width="1" height="3" fill="#fff"/>
<rect x="225" y="357" width="1" height="3" fill="#fff"/>
<rect x="132" y="362" width="7" height="4" fill="#fff"/>
<rect x="24" y="351" width="223" height="3" fill="#fff"/>
<rect x="24" y="379" width="223" height="13" fill="#000"/>
<rect x="25" y="380" width="6" height="2" fill="#fff"/>
<rect x="25" y="383" width="6" height="4" fill="#fff"/>
<rect x="25" y="388" width="6" height="3" fill="#fff"/>
<rect x="34" y="380" width="10" height="1" fill="#fff"/>
<rect x="42" y="380" width="2" height="11" fill="#fff"/>
<rect x="34" y="382" width="7" height="3" fill="#fff"/>
<rect x="34" y="385" width="1" height="5" fill="#fff"/>
<rect x="36" y="386" width="3" height="2" fill="#fff"/>
<rect x="34" y="388" width="5" height="2" fill="#fff"/>
<rect x="40" y="388" width="2" height="3" fill="#fff"/>
<rect x="240" y="380" width="6" height="2" fill="#fff"/>
<rect x="240" y="383" width="6" height="4" fill="#fff"/>
<rect x="240" y="388" width="6" height="3" fill="#fff"/>
<rect x="227" y="380" width="10" height="1" fill="#fff"/>
<rect x="227" y="380" width="2" height="11" fill="#fff"/>
<rect x="230" y="382" width="7" height="3" fill="#fff"/>
<rect x="236" y="385" width="1" height="5" fill="#fff"/>
<rect x="232" y="386" width="3" height="2" fill="#fff"/>
<rect x="232" y="388" width="5" height="2" fill="#fff"/>
<rect x="229" y="388" width="2" height="3" fill="#fff"/>
<rect x="44" y="390" width="183" height="1" fill="#fff"/>
<rect x="45" y="382" width="1" height="3" fill="#fff"/>
<rect x="47" y="382" width="1" height="3" fill="#fff"/>
<rect x="54" y="382" width="1" height="3" fill="#fff"/>
<rect x="56" y="382" width="1" height="3" fill="#fff"/>
<rect x="58" y="382" width="1" height="3" fill="#fff"/>
<rect x="60" y="382" width="1" height="3" fill="#fff"/>
<rect x="62" y="382" width="1" height="3" fill="#fff"/>
<rect x="69" y="382" width="1" height="3" fill="#fff"/>
<rect x="71" y="382" width="1" height="3" fill="#fff"/>
<rect x="73" y="382" width="1" height="3" fill="#fff"/>
<rect x="75" y="382" width="1" height="3" fill="#fff"/>
<rect x="77" y="382" width="1" height="3" fill="#fff"/>
<rect x="79" y="382" width="1" height="3" fill="#fff"/>
<rect x="84" y="382" width="1" height="3" fill="#fff"/>
<rect x="86" y="382" width="1" height="3" fill="#fff"/>
<rect x="88" y="382" width="1" height="3" fill="#fff"/>
<rect x="90" y="382" width="1" height="3" fill="#fff"/>
<rect x="103" y="382" width="1" height="3" fill="#fff"/>
<rect x="105" y="382" width="1" height="3" fill="#fff"/>
<rect x="116" y="382" width="1" height="3" fill="#fff"/>
<rect x="118" y="382" width="1" height="3" fill="#fff"/>
<rect x="120" y="382" width="1" height="3" fill="#fff"/>
<rect x="122" y="382" width="1" height="3" fill="#fff"/>
<rect x="124" y="382" width="1" height="3" fill="#fff"/>
<rect x="129" y="382" width="1" height="3" fill="#fff"/>
<rect x="141" y="382" width="1" height="3" fill="#fff"/>
<rect x="143" y="382" width="1" height="3" fill="#fff"/>
<rect x="152" y="382" width="1" height="3" fill="#fff"/>
<rect x="154" y="382" width="1" height="3" fill="#fff"/>
<rect x="156" y="382" width="1" height="3" fill="#fff"/>
<rect x="158" y="382" width="1" height="3" fill="#fff"/>
<rect x="160" y="382" width="1" height="3" fill="#fff"/>
<rect x="167" y="382" width="1" height="3" fill="#fff"/>
<rect x="169" y="382" width="1" height="3" fill="#fff"/>
<rect x="171" y="382" width="1" height="3" fill="#fff"/>
<rect x="173" y="382" width="1" height="3" fill="#fff"/>
<rect x="182" y="382" width="1" height="3" fill="#fff"/>
<rect x="184" y="382" width="1" height="3" fill="#fff"/>
<rect x="186" y="382" width="1" height="3" fill="#fff"/>
<rect x="188" y="382" width="1" height="3" fill="#fff"/>
<rect x="190" y="382" width="1" height="3" fill="#fff"/>
<rect x="199" y="382" width="1" height="3" fill="#fff"/>
<rect x="201" y="382" width="1" height="3" fill="#fff"/>
<rect x="203" y="382" width="1" height="3" fill="#fff"/>
<rect x="214" y="382" width="1" height="3" fill="#fff"/>
<rect x="216" y="382" width="1" height="3" fill="#fff"/>
<rect x="218" y="382" width="1" height="3" fill="#fff"/>
<rect x="225" y="382" width="1" height="3" fill="#fff"/>
<rect x="45" y="380" width="1" height="1" fill="#fff"/>
<rect x="56" y="380" width="1" height="1" fill="#fff"/>
<rect x="58" y="380" width="1" height="1" fill="#fff"/>
<rect x="60" y="380" width="1" height="1" fill="#fff"/>
<rect x="71" y="380" width="1" height="1" fill="#fff"/>
<rect x="73" y="380" width="1" height="1" fill="#fff"/>
<rect x="75" y="380" width="1" height="1" fill="#fff"/>
<rect x="77" y="380" width="1" height="1" fill="#fff"/>
<rect x="86" y="380" width="1" height="1" fill="#fff"/>
<rect x="88" y="380" width="1" height="1" fill="#fff"/>
<rect x="103" y="380" width="1" height="1" fill="#fff"/>
<rect x="118" y="380" width="1" height="1" fill="#fff"/>
<rect x="120" y="380" width="1" height="1" fill="#fff"/>
<rect x="122" y="380" width="1" height="1" fill="#fff"/>
<rect x="129" y="380" width="1" height="1" fill="#fff"/>
<rect x="141" y="380" width="1" height="1" fill="#fff"/>
<rect x="154" y="380" width="1" height="1" fill="#fff"/>
<rect x="156" y="380" width="1" height="1" fill="#fff"/>
<rect x="158" y="380" width="1" height="1" fill="#fff"/>
<rect x="169" y="380" width="1" height="1" fill="#fff"/>
<rect x="171" y="380" width="1" height="1" fill="#fff"/>
<rect x="184" y="380" width="1" height="1" fill="#fff"/>
<rect x="186" y="380" width="1" height="1" fill="#fff"/>
<rect x="188" y="380" width="1" height="1" fill="#fff"/>
<rect x="201" y="380" width="1" height="1" fill="#fff"/>
<rect x="216" y="380" width="1" height="1" fill="#fff"/>
<rect x="225" y="380" width="1" height="1" fill="#fff"/>
<rect x="132" y="380" width="7" height="3" fill="#fff"/>
<rect x="131" y="380" width="9" height="1" fill="#fff"/>
<rect x="24" y="395" width="223" height="13" fill="#000"/>
<rect x="25" y="396" width="6" height="2" fill="#fff"/>
<rect x="25" y="399" width="6" height="4" fill="#fff"/>
<rect x="25" y="404" width="6" height="3" fill="#fff"/>
<rect x="34" y="396" width="10" height="1" fill="#fff"/>
<rect x="42" y="396" width="2" height="11" fill="#fff"/>
<rect x="34" y="398" width="7" height="3" fill="#fff"/>
<rect x="34" y="401" width="1" height="5" fill="#fff"/>
<rect x="36" y="402" width="3" height="2" fill="#fff"/>
<rect x="34" y="404" width="5" height="2" fill="#fff"/>
<rect x="40" y="404" width="2" height="3" fill="#fff"/>
<rect x="240" y="396" width="6" height="2" fill="#fff"/>
<rect x="240" y="399" width="6" height="4" fill="#fff"/>
<rect x="240" y="404" width="6" height="3" fill="#fff"/>
<rect x="227" y="396" width="10" height="1" fill="#fff"/>
<rect x="227" y="396" width="2" height="11" fill="#fff"/>
<rect x="230" y="398" width="7" height="3" fill="#fff"/>
<rect x="236" y="401" width="1" height="5" fill="#fff"/>
<rect x="232" y="402" width="3" height="2" fill="#fff"/>
<rect x="232" y="404" width="5" height="2" fill="#fff"/>
<rect x="229" y="404" width="2" height="3" fill="#fff"/>
<rect x="44" y="406" width="183" height="1" fill="#fff"/>
<rect x="45" y="398" width="1" height="3" fill="#fff"/>
<rect x="47" y="398" width="1" height="3" fill="#fff"/>
<rect x="54" y="398" width="1" height="3" fill="#fff"/>
<rect x="56" y="398" width="1" height="3" fill="#fff"/>
<rect x="58" y="398" width="1" height="3" fill="#fff"/>
<rect x="60" y="398" width="1" height="3" fill="#fff"/>
<rect x="62" y="398" width="1" height="3" fill="#fff"/>
<rect x="69" y="398" width="1" height="3" fill="#fff"/>
<rect x="71" y="398" width="1" height="3" fill="#fff"/>
<rect x="73" y="398" width="1" height="3" fill="#fff"/>
<rect x="75" y="398" width="1" height="3" fill="#fff"/>
<rect x="77" y="398" width="1" height="3" fill="#fff"/>
<rect x="79" y="398" width="1" height="3" fill="#fff"/>
<rect x="84" y="398" width="1" height="3" fill="#fff"/>
<rect x="86" y="398" width="1" height="3" fill="#fff"/>
<rect x="88" y="398" width="1" height="3" fill="#fff"/>
<rect x="90" y="398" width="1" height="3" fill="#fff"/>
<rect x="103" y="398" width="1" height="3" fill="#fff"/>
<rect x="105" y="398" width="1" height="3" fill="#fff"/>
<rect x="116" y="398" width="1" height="3" fill="#fff"/>
<rect x="118" y="398" width="1" height="3" fill="#fff"/>
<rect x="120" y="398" width="1" height="3" fill="#fff"/>
<rect x="122" y="398" width="1" height="3" fill="#fff"/>
<rect x="124" y="398" width="1" height="3" fill="#fff"/>
<rect x="129" y="398" width="1" height="3" fill="#fff"/>
<rect x="141" y="398" width="1" height="3" fill="#fff"/>
<rect x="143" y="398" width="1" height="3" fill="#fff"/>
<rect x="152" y="398" width="1" height="3" fill="#fff"/>
<rect x="154" y="398" width="1" height="3" fill="#fff"/>
<rect x="156" y="398" width="1" height="3" fill="#fff"/>
<rect x="158" y="398" width="1" height="3" fill="#fff"/>
<rect x="160" y="398" width="1" height="3" fill="#fff"/>
<rect x="167" y="398" width="1" height="3" fill="#fff"/>
<rect x="169" y="398" width="1" height="3" fill="#fff"/>
<rect x="171" y="398" width="1" height="3" fill="#fff"/>
<rect x="173" y="398" width="1" height="3" fill="#fff"/>
<rect x="182" y="398" width="1" height="3" fill="#fff"/>
<rect x="184" y="398" width="1" height="3" fill="#fff"/>
<rect x="186" y="398" width="1" height="3" fill="#fff"/>
<rect x="188" y="398" width="1" height="3" fill="#fff"/>
<rect x="190" y="398" width="1" height="3" fill="#fff"/>
<rect x="199" y="398" width="1" height="3" fill="#fff"/>
<rect x="201" y="398" width="1" height="3" fill="#fff"/>
<rect x="203" y="398" width="1" height="3" fill="#fff"/>
<rect x="214" y="398" width="1" height="3" fill="#fff"/>
<rect x="216" y="398" width="1" height="3" fill="#fff"/>
<rect x="218" y="398" width="1" height="3" fill="#fff"/>
<rect x="225" y="398" width="1" height="3" fill="#fff"/>
<rect x="132" y="399" width="7" height="8" fill="#fff"/>
<rect x="24" y="392" width="223" height="3" fill="#fff"/>
<polygon points="111,347 158,347 160,349 160,359 158,361 111,361 109,359 109,349" fill="#000"/>
<polygon points="113,348 156,348 157,349 157,359 156,360 113,360 112,359 112,349" fill="#fff"/>
<text x="114.00" y="358" font-size="11">B</text>
<text x="121.00" y="358" font-size="11">A</text>
<text x="129.00" y="358" font-size="11">N</text>
<text x="137.00" y="358" font-size="11">K</text>
<text x="147.25" y="358" font-size="11">1</text>
<polygon points="111,385 158,385 160,387 160,396 158,398 111,398 109,396 109,387" fill="#000"/>
<polygon points="113,386 156,386 157,387 157,396 156,397 113,397 112,396 112,387" fill="#fff"/>
<text x="114.00" y="396" font-size="11">B</text>
<text x="121.00" y="396" font-size="11">A</text>
<text x="129.00" y="396" font-size="11">N</text>
<text x="137.00" y="396" font-size="11">K</text>
<text x="147.50" y="396" font-size="11">0</text>
<rect x="295" y="339" width="16" height="28" fill="#000"/>
<rect x="296" y="340" width="14" height="26" fill="#fff"/>
<rect x="299" y="342" width="9" height="20" fill="#000"/>
<rect x="300" y="358" width="7" height="3" fill="#fff"/>
<rect x="296" y="362" width="4" height="4" fill="#000"/>
<rect x="296" y="364" width="3" height="1" fill="#fff"/>
<rect x="297" y="363" width="1" height="3" fill="#fff"/>
<polygon points="252,376 295,376 296,377 296,390 295,391 252,391 251,390 251,377" fill="#000"/>
<rect x="253" y="378" width="41" height="11" fill="#fff"/>
<text x="252.25" y="387" font-size="11">S</text>
<text x="259.50" y="387" font-size="11">W</text>
<text x="270.00" y="387" font-size="11">2</text>
<text x="276.00" y="387" font-size="11">/</text>
<text x="279.25" y="387" font-size="11">1</text>
<text x="284.75" y="387" font-size="11">-</text>
<text x="288.25" y="387" font-size="11">4</text>
<rect x="301" y="367" width="4" height="1" fill="#000"/>
<rect x="300" y="368" width="4" height="1" fill="#000"/>
<rect x="299" y="369" width="4" height="1" fill="#000"/>
<rect x="298" y="370" width="4" height="1" fill="#000"/>
<rect x="297" y="371" width="4" height="1" fill="#000"/>
<rect x="296" y="372" width="4" height="1" fill="#000"/>
<rect x="295" y="373" width="4" height="1" fill="#000"/>
<rect x="294" y="374" width="4" height="1" fill="#000"/>
<rect x="293" y="375" width="4" height="1" fill="#000"/>
<rect x="297" y="372" width="1" height="1" fill="#fff"/>
<rect x="296" y="373" width="1" height="1" fill="#fff"/>
<rect x="295" y="374" width="1" height="1" fill="#fff"/>
<rect x="294" y="375" width="1" height="1" fill="#fff"/>
<rect x="293" y="376" width="1" height="1" fill="#fff"/>
<rect x="292" y="377" width="1" height="1" fill="#fff"/>
<rect x="303" y="394" width="8" height="16" fill="#000"/>
<rect x="304" y="395" width="2" height="1" fill="#fff"/>
<rect x="305" y="395" width="1" height="14" fill="#fff"/>
<rect x="305" y="399" width="5" height="1" fill="#fff"/>
<rect x="305" y="404" width="5" height="1" fill="#fff"/>
<rect x="304" y="408" width="6" height="1" fill="#fff"/>
<rect x="307" y="406" width="2" height="1" fill="#fff"/>
<polygon points="263,395 291,395 292,396 292,409 291,410 263,410 262,409 262,396" fill="#000"/>
<rect x="264" y="397" width="26" height="11" fill="#fff"/>
<rect x="292" y="399" width="3" height="6" fill="#000"/>
<rect x="295" y="400" width="6" height="4" fill="#000"/>
<rect x="301" y="401" width="2" height="2" fill="#000"/>
<rect x="290" y="401" width="4" height="2" fill="#fff"/>
<rect x="294" y="401" width="1" height="1" fill="#fff"/>
<text x="267.25" y="407" font-size="11">J</text>
<text x="273.25" y="407" font-size="11">1</text>
<text x="279.25" y="407" font-size="11">5</text>
<rect x="336" y="303" width="125" height="108" fill="#000"/>
<rect x="341" y="309" width="2" height="2" fill="#fff"/>
<rect x="346" y="309" width="1" height="2" fill="#fff"/>
<rect x="350" y="309" width="2" height="2" fill="#fff"/>
<rect x="355" y="309" width="2" height="2" fill="#fff"/>
<rect x="360" y="309" width="1" height="2" fill="#fff"/>
<rect x="364" y="309" width="2" height="2" fill="#fff"/>
<rect x="369" y="309" width="2" height="2" fill="#fff"/>
<rect x="374" y="309" width="1" height="2" fill="#fff"/>
<rect x="378" y="309" width="2" height="2" fill="#fff"/>
<rect x="383" y="309" width="2" height="2" fill="#fff"/>
<rect x="388" y="309" width="1" height="2" fill="#fff"/>
<rect x="392" y="309" width="2" height="2" fill="#fff"/>
<rect x="397" y="309" width="2" height="2" fill="#fff"/>
<rect x="402" y="309" width="1" height="2" fill="#fff"/>
<rect x="406" y="309" width="2" height="2" fill="#fff"/>
<rect x="411" y="309" width="2" height="2" fill="#fff"/>
<rect x="416" y="309" width="1" height="2" fill="#fff"/>
<rect x="420" y="309" width="2" height="2" fill="#fff"/>
<rect x="425" y="309" width="2" height="2" fill="#fff"/>
<rect x="430" y="309" width="1" height="2" fill="#fff"/>
<rect x="434" y="309" width="2" height="2" fill="#fff"/>
<rect x="341" y="314" width="2" height="2" fill="#fff"/>
<rect x="346" y="314" width="1" height="2" fill="#fff"/>
<rect x="350" y="314" width="2" height="2" fill="#fff"/>
<rect x="355" y="314" width="2" height="2" fill="#fff"/>
<rect x="360" y="314" width="1" height="2" fill="#fff"/>
<rect x="364" y="314" width="2" height="2" fill="#fff"/>
<rect x="369" y="314" width="2" height="2" fill="#fff"/>
<rect x="374" y="314" width="1" height="2" fill="#fff"/>
<rect x="378" y="314" width="2" height="2" fill="#fff"/>
<rect x="383" y="314" width="2" height="2" fill="#fff"/>
<rect x="388" y="314" width="1" height="2" fill="#fff"/>
<rect x="392" y="314" width="2" height="2" fill="#fff"/>
<rect x="397" y="314" width="2" height="2" fill="#fff"/>
<rect x="402" y="314" width="1" height="2" fill="#fff"/>
<rect x="406" y="314" width="2" height="2" fill="#fff"/>
<rect x="411" y="314" width="2" height="2" fill="#fff"/>
<rect x="416" y="314" width="1" height="2" fill="#fff"/>
<rect x="420" y="314" width="2" height="2" fill="#fff"/>
<rect x="425" y="314" width="2" height="2" fill="#fff"/>
<rect x="430" y="314" width="1" height="2" fill="#fff"/>
<rect x="434" y="314" width="2" height="2" fill="#fff"/>
<rect x="341" y="319" width="2" height="2" fill="#fff"/>
<rect x="346" y="319" width="1" height="2" fill="#fff"/>
<rect x="350" y="319" width="2" height="2" fill="#fff"/>
<rect x="355" y="319" width="2" height="2" fill="#fff"/>
<rect x="360" y="319" width="1" height="2" fill="#fff"/>
<rect x="364" y="319" width="2" height="2" fill="#fff"/>
<rect x="369" y="319" width="2" height="2" fill="#fff"/>
<rect x="374" y="319" width="1" height="2" fill="#fff"/>
<rect x="378" y="319" width="2" height="2" fill="#fff"/>
<rect x="383" y="319" width="2" height="2" fill="#fff"/>
<rect x="388" y="319" width="1" height="2" fill="#fff"/>
<rect x="392" y="319" width="2" height="2" fill="#fff"/>
<rect x="397" y="319" width="2" height="2" fill="#fff"/>
<rect x="402" y="319" width="1" height="2" fill="#fff"/>
<rect x="406" y="319" width="2" height="2" fill="#fff"/>
<rect x="411" y="319" width="2" height="2" fill="#fff"/>
<rect x="416" y="319" width="1" height="2" fill="#fff"/>
<rect x="420" y="319" width="2" height="2" fill="#fff"/>
<rect x="425" y="319" width="2" height="2" fill="#fff"/>
<rect x="430" y="319" width="1" height="2" fill="#fff"/>
<rect x="434" y="319" width="2" height="2" fill="#fff"/>
<rect x="341" y="324" width="2" height="1" fill="#fff"/>
<rect x="346" y="324" width="2" height="1" fill="#fff"/>
<rect x="350" y="324" width="2" height="1" fill="#fff"/>
<rect x="355" y="324" width="2" height="1" fill="#fff"/>
<rect x="360" y="324" width="2" height="1" fill="#fff"/>
<rect x="364" y="324" width="2" height="1" fill="#fff"/>
<rect x="369" y="324" width="2" height="1" fill="#fff"/>
<rect x="374" y="324" width="2" height="1" fill="#fff"/>
<rect x="378" y="324" width="2" height="1" fill="#fff"/>
<rect x="383" y="324" width="2" height="1" fill="#fff"/>
<rect x="388" y="324" width="2" height="1" fill="#fff"/>
<rect x="392" y="324" width="2" height="1" fill="#fff"/>
<rect x="397" y="324" width="2" height="1" fill="#fff"/>
<rect x="402" y="324" width="2" height="1" fill="#fff"/>
<rect x="406" y="324" width="2" height="1" fill="#fff"/>
<rect x="411" y="324" width="2" height="1" fill="#fff"/>
<rect x="416" y="324" width="2" height="1" fill="#fff"/>
<rect x="420" y="324" width="2" height="1" fill="#fff"/>
<rect x="425" y="324" width="2" height="1" fill="#fff"/>
<rect x="430" y="324" width="2" height="1" fill="#fff"/>
<rect x="434" y="324" width="2" height="1" fill="#fff"/>
<rect x="341" y="328" width="2" height="2" fill="#fff"/>
<rect x="346" y="328" width="1" height="2" fill="#fff"/>
<rect x="350" y="328" width="2" height="2" fill="#fff"/>
<rect x="355" y="328" width="2" height="2" fill="#fff"/>
<rect x="420" y="328" width="2" height="2" fill="#fff"/>
<rect x="425" y="328" width="2" height="2" fill="#fff"/>
<rect x="430" y="328" width="1" height="2" fill="#fff"/>
<rect x="434" y="328" width="2" height="2" fill="#fff"/>
<rect x="341" y="333" width="2" height="2" fill="#fff"/>
<rect x="346" y="333" width="1" height="2" fill="#fff"/>
<rect x="350" y="333" width="2" height="2" fill="#fff"/>
<rect x="355" y="333" width="2" height="2" fill="#fff"/>
<rect x="420" y="333" width="2" height="2" fill="#fff"/>
<rect x="425" y="333" width="2" height="2" fill="#fff"/>
<rect x="430" y="333" width="1" height="2" fill="#fff"/>
<rect x="434" y="333" width="2" height="2" fill="#fff"/>
<rect x="341" y="338" width="2" height="2" fill="#fff"/>
<rect x="346" y="338" width="1" height="2" fill="#fff"/>
<rect x="350" y="338" width="2" height="2" fill="#fff"/>
<rect x="355" y="338" width="2" height="2" fill="#fff"/>
<rect x="420" y="338" width="2" height="2" fill="#fff"/>
<rect x="425" y="338" width="2" height="2" fill="#fff"/>
<rect x="430" y="338" width="1" height="2" fill="#fff"/>
<rect x="434" y="338" width="2" height="2" fill="#fff"/>
<rect x="341" y="342" width="2" height="1" fill="#fff"/>
<rect x="346" y="342" width="2" height="1" fill="#fff"/>
<rect x="350" y="342" width="2" height="1" fill="#fff"/>
<rect x="355" y="342" width="2" height="1" fill="#fff"/>
<rect x="420" y="342" width="2" height="1" fill="#fff"/>
<rect x="425" y="342" width="2" height="1" fill="#fff"/>
<rect x="430" y="342" width="2" height="1" fill="#fff"/>
<rect x="434" y="342" width="2" height="1" fill="#fff"/>
<rect x="341" y="347" width="2" height="2" fill="#fff"/>
<rect x="346" y="347" width="1" height="2" fill="#fff"/>
<rect x="350" y="347" width="2" height="2" fill="#fff"/>
<rect x="355" y="347" width="2" height="2" fill="#fff"/>
<rect x="420" y="347" width="2" height="2" fill="#fff"/>
<rect x="425" y="347" width="2" height="2" fill="#fff"/>
<rect x="430" y="347" width="1" height="2" fill="#fff"/>
<rect x="434" y="347" width="2" height="2" fill="#fff"/>
<rect x="341" y="352" width="2" height="2" fill="#fff"/>
<rect x="346" y="352" width="1" height="2" fill="#fff"/>
<rect x="350" y="352" width="2" height="2" fill="#fff"/>
<rect x="355" y="352" width="2" height="2" fill="#fff"/>
<rect x="420" y="352" width="2" height="2" fill="#fff"/>
<rect x="425" y="352" width="2" height="2" fill="#fff"/>
<rect x="430" y="352" width="1" height="2" fill="#fff"/>
<rect x="434" y="352" width="2" height="2" fill="#fff"/>
<rect x="341" y="356" width="2" height="2" fill="#fff"/>
<rect x="346" y="356" width="1" height="2" fill="#fff"/>
<rect x="350" y="356" width="2" height="2" fill="#fff"/>
<rect x="355" y="356" width="2" height="2" fill="#fff"/>
<rect x="420" y="356" width="2" height="2" fill="#fff"/>
<rect x="425" y="356" width="2" height="2" fill="#fff"/>
<rect x="430" y="356" width="1" height="2" fill="#fff"/>
<rect x="434" y="356" width="2" height="2" fill="#fff"/>
<rect x="341" y="361" width="2" height="1" fill="#fff"/>
<rect x="346" y="361" width="2" height="1" fill="#fff"/>
<rect x="350" y="361" width="2" height="1" fill="#fff"/>
<rect x="355" y="361" width="2" height="1" fill="#fff"/>
<rect x="420" y="361" width="2" height="1" fill="#fff"/>
<rect x="425" y="361" width="2" height="1" fill="#fff"/>
<rect x="430" y="361" width="2" height="1" fill="#fff"/>
<rect x="434" y="361" width="2" height="1" fill="#fff"/>
<rect x="341" y="366" width="2" height="2" fill="#fff"/>
<rect x="346" y="366" width="1" height="2" fill="#fff"/>
<rect x="350" y="366" width="2" height="2" fill="#fff"/>
<rect x="355" y="366" width="2" height="2" fill="#fff"/>
<rect x="420" y="366" width="2" height="2" fill="#fff"/>
<rect x="425" y="366" width="2" height="2" fill="#fff"/>
<rect x="430" y="366" width="1" height="2" fill="#fff"/>
<rect x="434" y="366" width="2" height="2" fill="#fff"/>
<rect x="341" y="371" width="2" height="2" fill="#fff"/>
<rect x="346" y="371" width="1" height="2" fill="#fff"/>
<rect x="350" y="371" width="2" height="2" fill="#fff"/>
<rect x="355" y="371" width="2" height="2" fill="#fff"/>
<rect x="420" y="371" width="2" height="2" fill="#fff"/>
<rect x="425" y="371" width="2" height="2" fill="#fff"/>
<rect x="430" y="371" width="1" height="2" fill="#fff"/>
<rect x="434" y="371" width="2" height="2" fill="#fff"/>
<rect x="341" y="375" width="2" height="2" fill="#fff"/>
<rect x="346" y="375" width="1" height="2" fill="#fff"/>
<rect x="350" y="375" width="2" height="2" fill="#fff"/>
<rect x="355" y="375" width="2" height="2" fill="#fff"/>
<rect x="420" y="375" width="2" height="2" fill="#fff"/>
<rect x="425" y="375" width="2" height="2" fill="#fff"/>
<rect x="430" y="375" width="1" height="2" fill="#fff"/>
<rect x="434" y="375" width="2" height="2" fill="#fff"/>
<rect x="341" y="380" width="2" height="1" fill="#fff"/>
<rect x="346" y="380" width="2" height="1" fill="#fff"/>
<rect x="350" y="380" width="2" height="1" fill="#fff"/>
<rect x="355" y="380" width="2" height="1" fill="#fff"/>
<rect x="420" y="380" width="2" height="1" fill="#fff"/>
<rect x="425" y="380" width="2" height="1" fill="#fff"/>
<rect x="430" y="380" width="2" height="1" fill="#fff"/>
<rect x="434" y="380" width="2" height="1" fill="#fff"/>
<rect x="341" y="385" width="2" height="2" fill="#fff"/>
<rect x="346" y="385" width="1" height="2" fill="#fff"/>
<rect x="350" y="385" width="2" height="2" fill="#fff"/>
<rect x="355" y="385" width="2" height="2" fill="#fff"/>
<rect x="360" y="385" width="1" height="2" fill="#fff"/>
<rect x="364" y="385" width="2" height="2" fill="#fff"/>
<rect x="369" y="385" width="2" height="2" fill="#fff"/>
<rect x="374" y="385" width="1" height="2" fill="#fff"/>
<rect x="378" y="385" width="2" height="2" fill="#fff"/>
<rect x="383" y="385" width="2" height="2" fill="#fff"/>
<rect x="388" y="385" width="1" height="2" fill="#fff"/>
<rect x="392" y="385" width="2" height="2" fill="#fff"/>
<rect x="397" y="385" width="2" height="2" fill="#fff"/>
<rect x="402" y="385" width="1" height="2" fill="#fff"/>
<rect x="406" y="385" width="2" height="2" fill="#fff"/>
<rect x="411" y="385" width="2" height="2" fill="#fff"/>
<rect x="416" y="385" width="1" height="2" fill="#fff"/>
<rect x="420" y="385" width="2" height="2" fill="#fff"/>
<rect x="425" y="385" width="2" height="2" fill="#fff"/>
<rect x="430" y="385" width="1" height="2" fill="#fff"/>
<rect x="434" y="385" width="2" height="2" fill="#fff"/>
<rect x="341" y="389" width="2" height="2" fill="#fff"/>
<rect x="346" y="389" width="1" height="2" fill="#fff"/>
<rect x="350" y="389" width="2" height="2" fill="#fff"/>
<rect x="355" y="389" width="2" height="2" fill="#fff"/>
<rect x="360" y="389" width="1" height="2" fill="#fff"/>
<rect x="364" y="389" width="2" height="2" fill="#fff"/>
<rect x="369" y="389" width="2" height="2" fill="#fff"/>
<rect x="374" y="389" width="1" height="2" fill="#fff"/>
<rect x="378" y="389" width="2" height="2" fill="#fff"/>
<rect x="383" y="389" width="2" height="2" fill="#fff"/>
<rect x="388" y="389" width="1" height="2" fill="#fff"/>
<rect x="392" y="389" width="2" height="2" fill="#fff"/>
<rect x="397" y="389" width="2" height="2" fill="#fff"/>
<rect x="402" y="389" width="1" height="2" fill="#fff"/>
<rect x="406" y="389" width="2" height="2" fill="#fff"/>
<rect x="411" y="389" width="2" height="2" fill="#fff"/>
<rect x="416" y="389" width="1" height="2" fill="#fff"/>
<rect x="420" y="389" width="2" height="2" fill="#fff"/>
<rect x="425" y="389" width="2" height="2" fill="#fff"/>
<rect x="430" y="389" width="1" height="2" fill="#fff"/>
<rect x="434" y="389" width="2" height="2" fill="#fff"/>
<rect x="341" y="394" width="2" height="2" fill="#fff"/>
<rect x="346" y="394" width="1" height="2" fill="#fff"/>
<rect x="350" y="394" width="2" height="2" fill="#fff"/>
<rect x="355" y="394" width="2" height="2" fill="#fff"/>
<rect x="360" y="394" width="1" height="2" fill="#fff"/>
<rect x="364" y="394" width="2" height="2" fill="#fff"/>
<rect x="369" y="394" width="2" height="2" fill="#fff"/>
<rect x="374" y="394" width="1" height="2" fill="#fff"/>
<rect x="378" y="394" width="2" height="2" fill="#fff"/>
<rect x="383" y="394" width="2" height="2" fill="#fff"/>
<rect x="388" y="394" width="1" height="2" fill="#fff"/>
<rect x="392" y="394" width="2" height="2" fill="#fff"/>
<rect x="397" y="394" width="2" height="2" fill="#fff"/>
<rect x="402" y="394" width="1" height="2" fill="#fff"/>
<rect x="406" y="394" width="2" height="2" fill="#fff"/>
<rect x="411" y="394" width="2" height="2" fill="#fff"/>
<rect x="416" y="394" width="1" height="2" fill="#fff"/>
<rect x="420" y="394" width="2" height="2" fill="#fff"/>
<rect x="425" y="394" width="2" height="2" fill="#fff"/>
<rect x="430" y="394" width="1" height="2" fill="#fff"/>
<rect x="434" y="394" width="2" height="2" fill="#fff"/>
<rect x="341" y="399" width="2" height="1" fill="#fff"/>
<rect x="346" y="399" width="2" height="1" fill="#fff"/>
<rect x="350" y="399" width="2" height="1" fill="#fff"/>
<rect x="355" y="399" width="2" height="1" fill="#fff"/>
<rect x="360" y="399" width="2" height="1" fill="#fff"/>
<rect x="364" y="399" width="2" height="1" fill="#fff"/>
<rect x="369" y="399" width="2" height="1" fill="#fff"/>
<rect x="374" y="399" width="2" height="1" fill="#fff"/>
<rect x="378" y="399" width="2" height="1" fill="#fff"/>
<rect x="383" y="399" width="2" height="1" fill="#fff"/>
<rect x="388" y="399" width="2" height="1" fill="#fff"/>
<rect x="392" y="399" width="2" height="1" fill="#fff"/>
<rect x="397" y="399" width="2" height="1" fill="#fff"/>
<rect x="402" y="399" width="2" height="1" fill="#fff"/>
<rect x="406" y="399" width="2" height="1" fill="#fff"/>
<rect x="411" y="399" width="2" height="1" fill="#fff"/>
<rect x="416" y="399" width="2" height="1" fill="#fff"/>
<rect x="420" y="399" width="2" height="1" fill="#fff"/>
<rect x="425" y="399" width="2" height="1" fill="#fff"/>
<rect x="430" y="399" width="2" height="1" fill="#fff"/>
<rect x="434" y="399" width="2" height="1" fill="#fff"/>
<rect x="341" y="403" width="2" height="2" fill="#fff"/>
<rect x="346" y="403" width="1" height="2" fill="#fff"/>
<rect x="350" y="403" width="2" height="2" fill="#fff"/>
<rect x="355" y="403" width="2" height="2" fill="#fff"/>
<rect x="360" y="403" width="1" height="2" fill="#fff"/>
<rect x="364" y="403" width="2" height="2" fill="#fff"/>
<rect x="369" y="403" width="2" height="2" fill="#fff"/>
<rect x="374" y="403" width="1" height="2" fill="#fff"/>
<rect x="378" y="403" width="2" height="2" fill="#fff"/>
<rect x="383" y="403" width="2" height="2" fill="#fff"/>
<rect x="388" y="403" width="1" height="2" fill="#fff"/>
<rect x="392" y="403" width="2" height="2" fill="#fff"/>
<rect x="397" y="403" width="2" height="2" fill="#fff"/>
<rect x="402" y="403" width="1" height="2" fill="#fff"/>
<rect x="406" y="403" width="2" height="2" fill="#fff"/>
<rect x="411" y="403" width="2" height="2" fill="#fff"/>
<rect x="416" y="403" width="1" height="2" fill="#fff"/>
<rect x="420" y="403" width="2" height="2" fill="#fff"/>
<rect x="425" y="403" width="2" height="2" fill="#fff"/>
<rect x="430" y="403" width="1" height="2" fill="#fff"/>
<rect x="434" y="403" width="2" height="2" fill="#fff"/>
<rect x="362" y="329" width="55" height="54" fill="#fff"/>
<rect x="441" y="303" width="1" height="104" fill="#fff"/>
<rect x="443" y="303" width="1" height="104" fill="#fff"/>
<rect x="458" y="303" width="1" height="104" fill="#fff"/>
<rect x="441" y="406" width="18" height="1" fill="#fff"/>
<rect x="446" y="339" width="5" height="25" fill="#fff"/>
<rect x="452" y="339" width="3" height="25" fill="#fff"/>
<rect x="349" y="411" width="105" height="8" fill="#000"/>
<rect x="351" y="412" width="102" height="6" fill="#fff"/>
<rect x="344" y="411" width="5" height="2" fill="#000"/>
<rect x="345" y="413" width="4" height="1" fill="#000"/>
<rect x="347" y="414" width="2" height="2" fill="#000"/>
<rect x="345" y="412" width="1" height="1" fill="#fff"/>
<rect x="345" y="298" width="18" height="1" fill="#000"/>
<rect x="350" y="298" width="2" height="1" fill="#fff"/>
<rect x="342" y="299" width="23" height="3" fill="#000"/>
<rect x="343" y="300" width="21" height="1" fill="#fff"/>
<rect x="345" y="302" width="18" height="1" fill="#000"/>
<rect x="350" y="302" width="2" height="1" fill="#fff"/>
<rect x="426" y="298" width="19" height="1" fill="#000"/>
<rect x="431" y="298" width="2" height="1" fill="#fff"/>
<rect x="423" y="299" width="24" height="3" fill="#000"/>
<rect x="424" y="300" width="22" height="1" fill="#fff"/>
<rect x="426" y="302" width="19" height="1" fill="#000"/>
<rect x="431" y="302" width="2" height="1" fill="#fff"/>
<polygon points="382,342 396,342 397,343 397,370 396,371 382,371 381,370 381,343" fill="#000"/>
<rect x="383" y="344" width="12" height="25" fill="#fff"/>
<text x="0" y="0" font-size="11" text-anchor="middle" textLength="22.60" lengthAdjust="spacing" transform="translate(392,357.25) rotate(-90)">CPU</text>
<rect x="473" y="295" width="16" height="8" fill="#000"/>
<rect x="474" y="296" width="14" height="1" fill="#fff"/>
<rect x="474" y="296" width="1" height="6" fill="#fff"/>
<rect x="478" y="297" width="1" height="4" fill="#fff"/>
<rect x="483" y="297" width="1" height="4" fill="#fff"/>
<rect x="485" y="298" width="2" height="2" fill="#fff"/>
<rect x="487" y="301" width="1" height="1" fill="#fff"/>
<polygon points="469,316 494,316 495,317 495,329 494,330 469,330 468,329 468,317" fill="#000"/>
<rect x="470" y="318" width="23" height="10" fill="#fff"/>
<rect x="478" y="313" width="6" height="3" fill="#000"/>
<rect x="479" y="307" width="4" height="6" fill="#000"/>
<rect x="480" y="303" width="2" height="4" fill="#000"/>
<rect x="480" y="314" width="2" height="4" fill="#fff"/>
<rect x="480" y="313" width="1" height="1" fill="#fff"/>
<text x="472.25" y="326" font-size="11">J</text>
<text x="477.25" y="326" font-size="11">1</text>
<text x="483.50" y="326" font-size="11">3</text>
<rect x="547" y="314" width="11" height="20" fill="#000"/>
<rect x="548" y="319" width="4" height="1" fill="#fff"/>
<rect x="553" y="319" width="4" height="1" fill="#fff"/>
<rect x="548" y="324" width="4" height="1" fill="#fff"/>
<rect x="553" y="324" width="4" height="1" fill="#fff"/>
<rect x="548" y="329" width="4" height="4" fill="#fff"/>
<rect x="554" y="330" width="2" height="2" fill="#fff"/>
<polygon points="507,314 534,314 535,315 535,328 534,329 507,329 506,328 506,315" fill="#000"/>
<rect x="508" y="316" width="25" height="11" fill="#fff"/>
<rect x="535" y="318" width="3" height="6" fill="#000"/>
<rect x="538" y="319" width="6" height="4" fill="#000"/>
<rect x="544" y="320" width="3" height="2" fill="#000"/>
<rect x="533" y="320" width="4" height="2" fill="#fff"/>
<rect x="537" y="320" width="1" height="1" fill="#fff"/>
<text x="511.25" y="324" font-size="11">J</text>
<text x="516.25" y="324" font-size="11">1</text>
<text x="522.25" y="324" font-size="11">1</text>
<rect x="568" y="313" width="10" height="26" fill="#000"/>
<rect x="569" y="314" width="8" height="1" fill="#fff"/>
<rect x="569" y="319" width="8" height="1" fill="#fff"/>
<rect x="569" y="324" width="8" height="1" fill="#fff"/>
<rect x="569" y="333" width="8" height="1" fill="#fff"/>
<rect x="574" y="335" width="2" height="2" fill="#fff"/>
<rect x="582" y="313" width="10" height="26" fill="#000"/>
<rect x="583" y="314" width="8" height="1" fill="#fff"/>
<rect x="583" y="319" width="8" height="1" fill="#fff"/>
<rect x="583" y="324" width="8" height="1" fill="#fff"/>
<rect x="583" y="333" width="8" height="1" fill="#fff"/>
<rect x="588" y="335" width="2" height="2" fill="#fff"/>
<rect x="586" y="314" width="1" height="23" fill="#fff"/>
<polygon points="561,286 586,286 587,287 587,299 586,300 561,300 560,299 560,287" fill="#000"/>
<rect x="562" y="288" width="23" height="10" fill="#fff"/>
<rect x="570" y="300" width="6" height="3" fill="#000"/>
<rect x="571" y="303" width="4" height="6" fill="#000"/>
<rect x="572" y="309" width="2" height="4" fill="#000"/>
<rect x="572" y="298" width="2" height="4" fill="#fff"/>
<rect x="572" y="302" width="1" height="1" fill="#fff"/>
<text x="563.25" y="296" font-size="11">J</text>
<text x="568.25" y="296" font-size="11">1</text>
<text x="574.50" y="296" font-size="11">0</text>
<polygon points="594,293 612,293 613,294 613,306 612,307 594,307 593,306 593,294" fill="#000"/>
<rect x="595" y="295" width="16" height="10" fill="#fff"/>
<text x="596.25" y="304" font-size="11">J</text>
<text x="603.50" y="304" font-size="11">9</text>
<rect x="591" y="307" width="4" height="1" fill="#000"/>
<rect x="590" y="308" width="4" height="1" fill="#000"/>
<rect x="589" y="309" width="4" height="1" fill="#000"/>
<rect x="588" y="310" width="4" height="1" fill="#000"/>
<rect x="587" y="311" width="4" height="1" fill="#000"/>
<rect x="586" y="312" width="4" height="1" fill="#000"/>
<rect x="561" y="353" width="25" height="6" fill="#000"/>
<rect x="566" y="355" width="1" height="2" fill="#fff"/>
<rect x="570" y="355" width="1" height="2" fill="#fff"/>
<rect x="574" y="355" width="1" height="2" fill="#fff"/>
<rect x="579" y="355" width="2" height="2" fill="#fff"/>
<rect x="583" y="355" width="1" height="2" fill="#fff"/>
<polygon points="601,348 618,348 619,349 619,362 618,363 601,363 600,362 600,349" fill="#000"/>
<rect x="602" y="350" width="15" height="11" fill="#fff"/>
<rect x="597" y="353" width="3" height="6" fill="#000"/>
<rect x="591" y="354" width="6" height="4" fill="#000"/>
<rect x="586" y="355" width="5" height="2" fill="#000"/>
<rect x="598" y="355" width="4" height="2" fill="#fff"/>
<rect x="597" y="355" width="1" height="1" fill="#fff"/>
<text x="602.25" y="359" font-size="11">J</text>
<text x="608.50" y="359" font-size="11">8</text>
<rect x="575" y="372" width="24" height="30" fill="#000"/>
<rect x="573" y="377" width="2" height="20" fill="#000"/>
<rect x="595" y="368" width="4" height="4" fill="#000"/>
<rect x="597" y="367" width="2" height="1" fill="#000"/>
<rect x="595" y="402" width="4" height="3" fill="#000"/>
<rect x="597" y="405" width="2" height="2" fill="#000"/>
<rect x="570" y="379" width="4" height="7" fill="#000"/>
<rect x="571" y="380" width="2" height="5" fill="#fff"/>
<rect x="570" y="388" width="4" height="7" fill="#000"/>
<rect x="571" y="389" width="2" height="5" fill="#fff"/>
<rect x="574" y="385" width="1" height="3" fill="#fff"/>
<rect x="477" y="336" width="15" height="77" fill="#000"/>
<rect x="478" y="337" width="12" height="75" fill="#fff"/>
<rect x="479" y="339" width="5" height="6" fill="#000"/>
<rect x="480" y="340" width="3" height="4" fill="#fff"/>
<rect x="484" y="339" width="6" height="6" fill="#000"/>
<rect x="486" y="340" width="3" height="4" fill="#fff"/>
<rect x="479" y="346" width="5" height="6" fill="#000"/>
<rect x="480" y="347" width="3" height="4" fill="#fff"/>
<rect x="484" y="346" width="6" height="6" fill="#000"/>
<rect x="486" y="347" width="3" height="4" fill="#fff"/>
<rect x="479" y="354" width="5" height="6" fill="#000"/>
<rect x="480" y="355" width="3" height="4" fill="#fff"/>
<rect x="484" y="354" width="6" height="6" fill="#000"/>
<rect x="486" y="355" width="3" height="4" fill="#fff"/>
<rect x="479" y="361" width="5" height="6" fill="#000"/>
<rect x="480" y="362" width="3" height="4" fill="#fff"/>
<rect x="484" y="361" width="6" height="6" fill="#000"/>
<rect x="486" y="362" width="3" height="4" fill="#fff"/>
<rect x="479" y="368" width="5" height="6" fill="#000"/>
<rect x="480" y="369" width="3" height="4" fill="#fff"/>
<rect x="484" y="368" width="6" height="6" fill="#000"/>
<rect x="486" y="369" width="3" height="4" fill="#fff"/>
<rect x="479" y="376" width="5" height="6" fill="#000"/>
<rect x="480" y="377" width="3" height="4" fill="#fff"/>
<rect x="484" y="376" width="6" height="6" fill="#000"/>
<rect x="486" y="377" width="3" height="4" fill="#fff"/>
<rect x="479" y="383" width="5" height="6" fill="#000"/>
<rect x="480" y="384" width="3" height="4" fill="#fff"/>
<rect x="484" y="383" width="6" height="6" fill="#000"/>
<rect x="486" y="384" width="3" height="4" fill="#fff"/>
<rect x="479" y="390" width="5" height="6" fill="#000"/>
<rect x="480" y="391" width="3" height="4" fill="#fff"/>
<rect x="484" y="390" width="6" height="6" fill="#000"/>
<rect x="486" y="391" width="3" height="4" fill="#fff"/>
<rect x="479" y="398" width="5" height="6" fill="#000"/>
<rect x="480" y="399" width="3" height="4" fill="#fff"/>
<rect x="484" y="398" width="6" height="6" fill="#000"/>
<rect x="486" y="399" width="3" height="4" fill="#fff"/>
<rect x="479" y="405" width="5" height="6" fill="#000"/>
<rect x="480" y="406" width="3" height="4" fill="#fff"/>
<rect x="484" y="405" width="6" height="6" fill="#000"/>
<rect x="486" y="406" width="3" height="4" fill="#fff"/>
<polygon points="474,427 497,427 498,428 498,441 497,442 474,442 473,441 473,428" fill="#000"/>
<rect x="475" y="429" width="21" height="11" fill="#fff"/>
<rect x="482" y="424" width="6" height="3" fill="#000"/>
<rect x="483" y="418" width="4" height="6" fill="#000"/>
<rect x="484" y="413" width="2" height="5" fill="#000"/>
<rect x="484" y="425" width="2" height="4" fill="#fff"/>
<rect x="484" y="424" width="1" height="1" fill="#fff"/>
<text x="475.00" y="439" font-size="11">A</text>
<text x="481.25" y="439" font-size="11">T</text>
<text x="488.25" y="439" font-size="11">X</text>
<rect x="503" y="331" width="20" height="90" fill="#000"/>
<rect x="504" y="332" width="18" height="88" fill="#fff"/>
<rect x="505" y="333" width="4" height="86" fill="#000"/>
<rect x="510" y="333" width="4" height="86" fill="#000"/>
<rect x="514" y="335" width="7" height="7" fill="#000"/>
<rect x="515" y="336" width="5" height="5" fill="#fff"/>
<rect x="506" y="338" width="3" height="1" fill="#fff"/>
<rect x="506" y="336" width="1" height="5" fill="#fff"/>
<rect x="510" y="338" width="4" height="1" fill="#fff"/>
<rect x="514" y="343" width="7" height="7" fill="#000"/>
<rect x="515" y="344" width="5" height="5" fill="#fff"/>
<rect x="506" y="346" width="3" height="1" fill="#fff"/>
<rect x="506" y="344" width="1" height="5" fill="#fff"/>
<rect x="510" y="346" width="4" height="1" fill="#fff"/>
<rect x="514" y="351" width="7" height="7" fill="#000"/>
<rect x="515" y="352" width="5" height="5" fill="#fff"/>
<rect x="506" y="354" width="3" height="1" fill="#fff"/>
<rect x="506" y="352" width="1" height="5" fill="#fff"/>
<rect x="510" y="354" width="4" height="1" fill="#fff"/>
<rect x="514" y="359" width="7" height="7" fill="#000"/>
<rect x="515" y="360" width="5" height="5" fill="#fff"/>
<rect x="506" y="362" width="3" height="1" fill="#fff"/>
<rect x="506" y="360" width="1" height="5" fill="#fff"/>
<rect x="510" y="362" width="4" height="1" fill="#fff"/>
<rect x="514" y="367" width="7" height="7" fill="#000"/>
<rect x="515" y="368" width="5" height="5" fill="#fff"/>
<rect x="506" y="370" width="3" height="1" fill="#fff"/>
<rect x="506" y="368" width="1" height="5" fill="#fff"/>
<rect x="510" y="370" width="4" height="1" fill="#fff"/>
<rect x="514" y="375" width="7" height="7" fill="#000"/>
<rect x="515" y="376" width="5" height="5" fill="#fff"/>
<rect x="506" y="378" width="3" height="1" fill="#fff"/>
<rect x="506" y="376" width="1" height="5" fill="#fff"/>
<rect x="510" y="378" width="4" height="1" fill="#fff"/>
<rect x="514" y="383" width="7" height="7" fill="#000"/>
<rect x="515" y="384" width="5" height="5" fill="#fff"/>
<rect x="506" y="386" width="3" height="1" fill="#fff"/>
<rect x="506" y="384" width="1" height="5" fill="#fff"/>
<rect x="510" y="386" width="4" height="1" fill="#fff"/>
<rect x="514" y="391" width="7" height="7" fill="#000"/>
<rect x="515" y="392" width="5" height="5" fill="#fff"/>
<rect x="506" y="394" width="3" height="1" fill="#fff"/>
<rect x="506" y="392" width="1" height="5" fill="#fff"/>
<rect x="510" y="394" width="4" height="1" fill="#fff"/>
<rect x="514" y="399" width="7" height="7" fill="#000"/>
<rect x="515" y="400" width="5" height="5" fill="#fff"/>
<rect x="506" y="402" width="3" height="1" fill="#fff"/>
<rect x="506" y="400" width="1" height="5" fill="#fff"/>
<rect x="510" y="402" width="4" height="1" fill="#fff"/>
<rect x="514" y="407" width="7" height="7" fill="#000"/>
<rect x="515" y="408" width="5" height="5" fill="#fff"/>
<rect x="506" y="410" width="3" height="1" fill="#fff"/>
<rect x="506" y="408" width="1" height="5" fill="#fff"/>
<rect x="510" y="410" width="4" height="1" fill="#fff"/>
<rect x="514" y="415" width="7" height="7" fill="#000"/>
<rect x="515" y="416" width="5" height="5" fill="#fff"/>
<rect x="506" y="418" width="3" height="1" fill="#fff"/>
<rect x="506" y="416" width="1" height="5" fill="#fff"/>
<rect x="510" y="418" width="4" height="1" fill="#fff"/>
<rect x="515" y="333" width="6" height="1" fill="#fff"/>
<rect x="530" y="335" width="11" height="81" fill="#000"/>
<rect x="531" y="336" width="1" height="79" fill="#fff"/>
<rect x="535" y="336" width="1" height="79" fill="#fff"/>
<rect x="531" y="340" width="9" height="1" fill="#fff"/>
<rect x="531" y="345" width="9" height="1" fill="#fff"/>
<rect x="531" y="350" width="9" height="1" fill="#fff"/>
<rect x="531" y="354" width="9" height="1" fill="#fff"/>
<rect x="531" y="359" width="9" height="1" fill="#fff"/>
<rect x="531" y="363" width="9" height="1" fill="#fff"/>
<rect x="531" y="368" width="9" height="1" fill="#fff"/>
<rect x="531" y="372" width="9" height="1" fill="#fff"/>
<rect x="531" y="377" width="9" height="1" fill="#fff"/>
<rect x="531" y="381" width="9" height="1" fill="#fff"/>
<rect x="531" y="386" width="9" height="1" fill="#fff"/>
<rect x="531" y="390" width="9" height="1" fill="#fff"/>
<rect x="531" y="395" width="9" height="1" fill="#fff"/>
<rect x="531" y="400" width="9" height="1" fill="#fff"/>
<rect x="531" y="404" width="9" height="1" fill="#fff"/>
<rect x="531" y="409" width="9" height="1" fill="#fff"/>
<rect x="531" y="413" width="9" height="1" fill="#fff"/>
<rect x="532" y="336" width="3" height="4" fill="#fff"/>
<rect x="533" y="337" width="1" height="2" fill="#000"/>
<polygon points="527,430 546,430 547,431 547,443 546,444 527,444 526,443 526,431" fill="#000"/>
<rect x="528" y="432" width="17" height="10" fill="#fff"/>
<rect x="533" y="427" width="6" height="3" fill="#000"/>
<rect x="534" y="421" width="4" height="6" fill="#000"/>
<rect x="535" y="416" width="2" height="5" fill="#000"/>
<rect x="535" y="428" width="2" height="4" fill="#fff"/>
<rect x="535" y="427" width="1" height="1" fill="#fff"/>
<text x="531.25" y="440" font-size="11">J</text>
<text x="536.25" y="440" font-size="11">5</text>
<rect x="547" y="353" width="11" height="63" fill="#000"/>
<rect x="548" y="354" width="1" height="61" fill="#fff"/>
<rect x="552" y="354" width="1" height="61" fill="#fff"/>
<rect x="548" y="358" width="9" height="1" fill="#fff"/>
<rect x="548" y="363" width="9" height="1" fill="#fff"/>
<rect x="548" y="368" width="9" height="1" fill="#fff"/>
<rect x="548" y="372" width="9" height="1" fill="#fff"/>
<rect x="548" y="377" width="9" height="1" fill="#fff"/>
<rect x="548" y="381" width="9" height="1" fill="#fff"/>
<rect x="548" y="386" width="9" height="1" fill="#fff"/>
<rect x="548" y="391" width="9" height="1" fill="#fff"/>
<rect x="548" y="395" width="9" height="1" fill="#fff"/>
<rect x="548" y="400" width="9" height="1" fill="#fff"/>
<rect x="548" y="404" width="9" height="1" fill="#fff"/>
<rect x="548" y="409" width="9" height="1" fill="#fff"/>
<rect x="548" y="414" width="9" height="1" fill="#fff"/>
<rect x="549" y="355" width="3" height="3" fill="#fff"/>
<rect x="550" y="356" width="1" height="1" fill="#000"/>
<polygon points="559,421 577,421 578,422 578,435 577,436 559,436 558,435 558,422" fill="#000"/>
<rect x="560" y="423" width="16" height="11" fill="#fff"/>
<text x="561.25" y="432" font-size="11">J</text>
<text x="567.00" y="432" font-size="11">2</text>
<rect x="552" y="416" width="3" height="1" fill="#000"/>
<rect x="553" y="417" width="3" height="1" fill="#000"/>
<rect x="554" y="418" width="3" height="1" fill="#000"/>
<rect x="555" y="419" width="3" height="1" fill="#000"/>
<rect x="556" y="420" width="4" height="1" fill="#000"/>
<rect x="557" y="421" width="4" height="1" fill="#000"/>
</g>
</svg></body></html>
